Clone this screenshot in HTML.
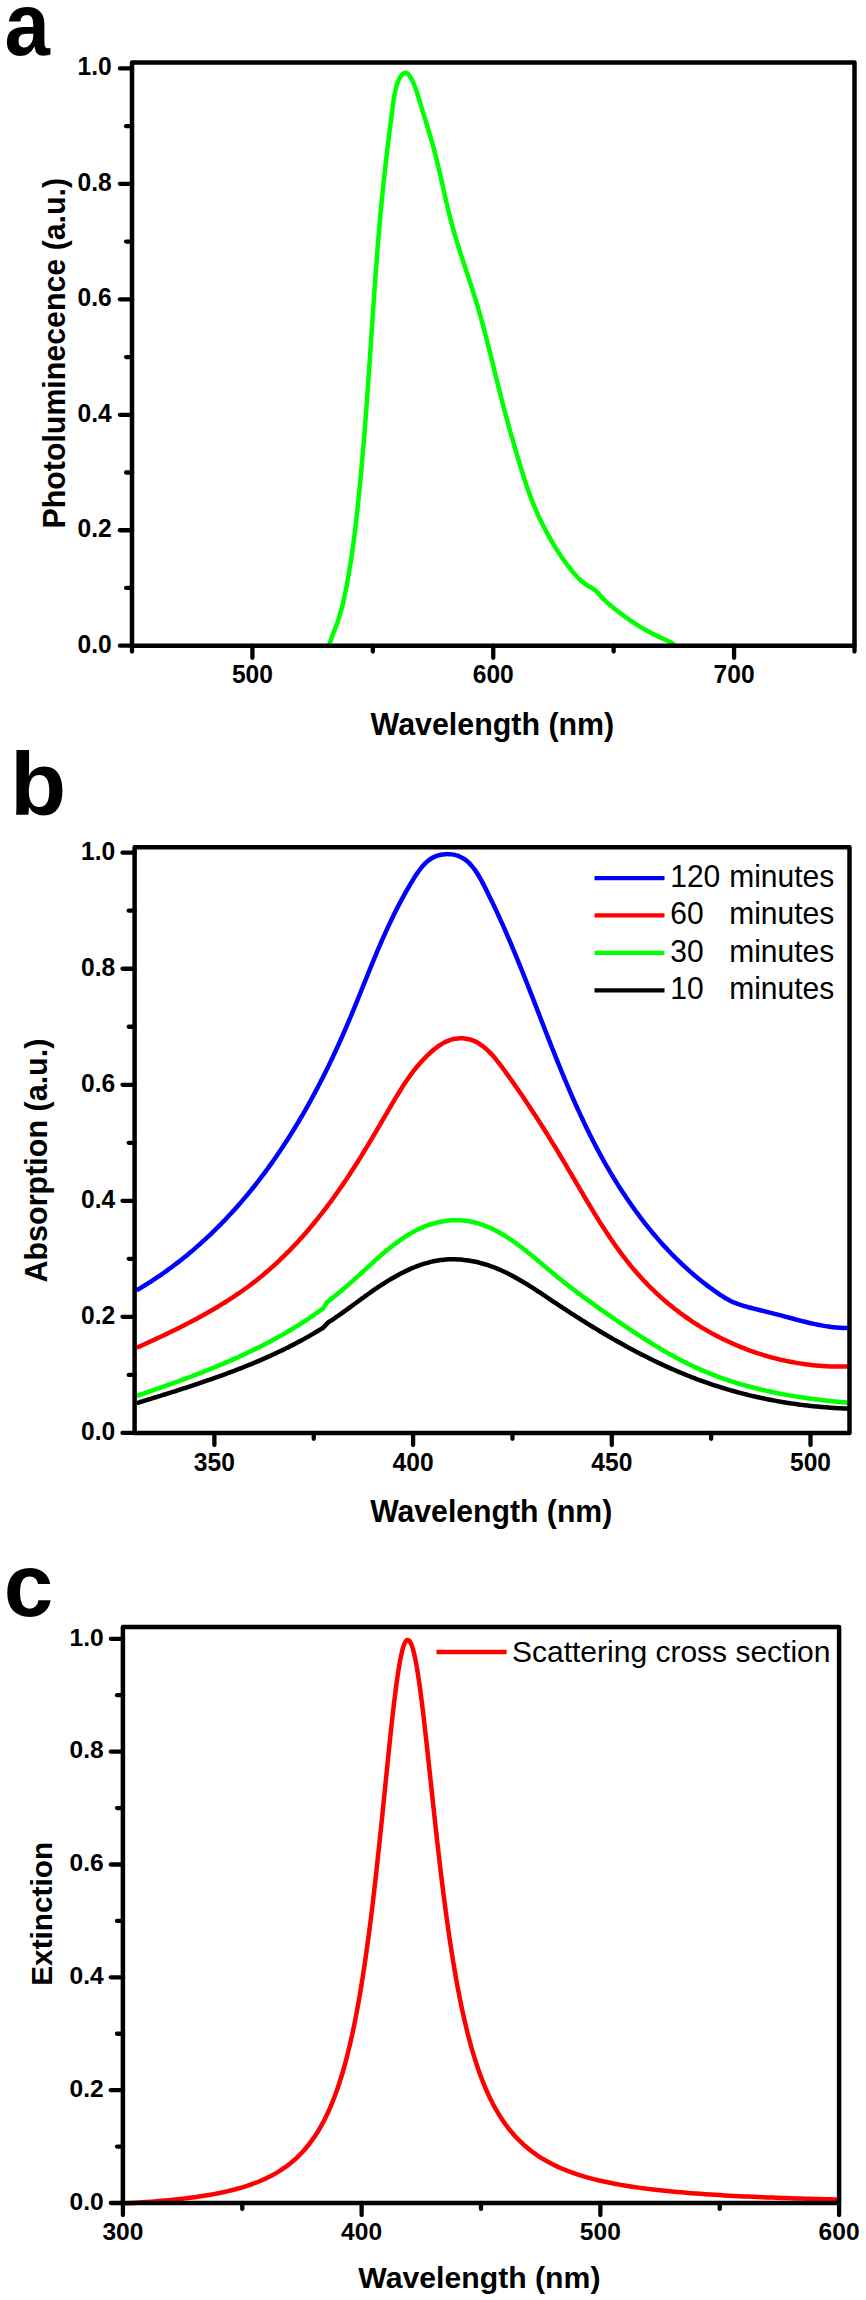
<!DOCTYPE html><html><head><meta charset="utf-8"><style>html,body{margin:0;padding:0;background:#fff;}svg{display:block;}text{font-family:"Liberation Sans", sans-serif;fill:#000;}</style></head><body>
<svg width="866" height="2300" viewBox="0 0 866 2300">
<rect width="866" height="2300" fill="#fff"/>
<line x1="252.42" y1="645.70" x2="252.42" y2="657.80" stroke="#000" stroke-width="4.3" stroke-linecap="round"/>
<line x1="493.25" y1="645.70" x2="493.25" y2="657.80" stroke="#000" stroke-width="4.3" stroke-linecap="round"/>
<line x1="734.08" y1="645.70" x2="734.08" y2="657.80" stroke="#000" stroke-width="4.3" stroke-linecap="round"/>
<line x1="132.00" y1="645.70" x2="132.00" y2="651.60" stroke="#000" stroke-width="4.3" stroke-linecap="round"/>
<line x1="372.83" y1="645.70" x2="372.83" y2="651.60" stroke="#000" stroke-width="4.3" stroke-linecap="round"/>
<line x1="613.67" y1="645.70" x2="613.67" y2="651.60" stroke="#000" stroke-width="4.3" stroke-linecap="round"/>
<line x1="854.50" y1="645.70" x2="854.50" y2="651.60" stroke="#000" stroke-width="4.3" stroke-linecap="round"/>
<line x1="132.00" y1="645.70" x2="119.90" y2="645.70" stroke="#000" stroke-width="4.3" stroke-linecap="round"/>
<line x1="132.00" y1="530.24" x2="119.90" y2="530.24" stroke="#000" stroke-width="4.3" stroke-linecap="round"/>
<line x1="132.00" y1="414.78" x2="119.90" y2="414.78" stroke="#000" stroke-width="4.3" stroke-linecap="round"/>
<line x1="132.00" y1="299.32" x2="119.90" y2="299.32" stroke="#000" stroke-width="4.3" stroke-linecap="round"/>
<line x1="132.00" y1="183.86" x2="119.90" y2="183.86" stroke="#000" stroke-width="4.3" stroke-linecap="round"/>
<line x1="132.00" y1="68.40" x2="119.90" y2="68.40" stroke="#000" stroke-width="4.3" stroke-linecap="round"/>
<line x1="132.00" y1="587.97" x2="126.10" y2="587.97" stroke="#000" stroke-width="4.3" stroke-linecap="round"/>
<line x1="132.00" y1="472.51" x2="126.10" y2="472.51" stroke="#000" stroke-width="4.3" stroke-linecap="round"/>
<line x1="132.00" y1="357.05" x2="126.10" y2="357.05" stroke="#000" stroke-width="4.3" stroke-linecap="round"/>
<line x1="132.00" y1="241.59" x2="126.10" y2="241.59" stroke="#000" stroke-width="4.3" stroke-linecap="round"/>
<line x1="132.00" y1="126.13" x2="126.10" y2="126.13" stroke="#000" stroke-width="4.3" stroke-linecap="round"/>
<text x="252.42" y="0" transform="translate(0 683.20) scale(1 1.030)" text-anchor="middle" font-size="24.60" font-weight="bold">500</text>
<text x="493.25" y="0" transform="translate(0 683.20) scale(1 1.030)" text-anchor="middle" font-size="24.60" font-weight="bold">600</text>
<text x="734.08" y="0" transform="translate(0 683.20) scale(1 1.030)" text-anchor="middle" font-size="24.60" font-weight="bold">700</text>
<text x="111.80" y="0" transform="translate(0 652.50) scale(1 1.030)" text-anchor="end" font-size="24.60" font-weight="bold">0.0</text>
<text x="111.80" y="0" transform="translate(0 537.04) scale(1 1.030)" text-anchor="end" font-size="24.60" font-weight="bold">0.2</text>
<text x="111.80" y="0" transform="translate(0 421.58) scale(1 1.030)" text-anchor="end" font-size="24.60" font-weight="bold">0.4</text>
<text x="111.80" y="0" transform="translate(0 306.12) scale(1 1.030)" text-anchor="end" font-size="24.60" font-weight="bold">0.6</text>
<text x="111.80" y="0" transform="translate(0 190.66) scale(1 1.030)" text-anchor="end" font-size="24.60" font-weight="bold">0.8</text>
<text x="111.80" y="0" transform="translate(0 75.20) scale(1 1.030)" text-anchor="end" font-size="24.60" font-weight="bold">1.0</text>
<path d="M329.01,645.80 C329.10,645.48 329.37,644.51 329.56,643.87 C329.76,643.23 329.96,642.59 330.16,641.95 C330.37,641.32 330.59,640.68 330.80,640.05 C331.02,639.42 331.24,638.79 331.47,638.16 C331.70,637.53 331.93,636.90 332.17,636.28 C332.40,635.65 332.64,635.02 332.88,634.40 C333.12,633.77 333.36,633.15 333.60,632.53 C333.84,631.90 334.08,631.28 334.33,630.65 C334.57,630.03 334.81,629.41 335.05,628.78 C335.29,628.16 335.53,627.54 335.77,626.91 C336.01,626.28 336.24,625.66 336.47,625.03 C336.70,624.40 336.93,623.78 337.15,623.15 C337.38,622.52 337.59,621.89 337.81,621.25 C338.02,620.62 338.24,619.99 338.44,619.35 C338.65,618.72 338.85,618.08 339.06,617.45 C339.26,616.81 339.45,616.17 339.65,615.53 C339.84,614.90 340.03,614.26 340.22,613.61 C340.40,612.97 340.59,612.33 340.77,611.69 C340.95,611.05 341.12,610.40 341.30,609.76 C341.47,609.11 341.64,608.47 341.81,607.82 C341.98,607.17 342.15,606.53 342.31,605.88 C342.47,605.23 342.63,604.58 342.79,603.93 C342.95,603.28 343.10,602.63 343.26,601.98 C343.41,601.33 343.56,600.68 343.71,600.03 C343.86,599.37 344.00,598.72 344.15,598.07 C344.29,597.41 344.43,596.76 344.57,596.11 C344.71,595.45 344.85,594.80 344.99,594.14 C345.12,593.49 345.26,592.83 345.39,592.17 C345.52,591.52 345.65,590.86 345.78,590.20 C345.91,589.55 346.04,588.89 346.17,588.23 C346.30,587.58 346.42,586.92 346.55,586.26 C346.67,585.60 346.80,584.94 346.92,584.29 C347.04,583.63 347.16,582.97 347.28,582.31 C347.40,581.65 347.52,580.99 347.64,580.34 C347.76,579.68 347.88,579.02 347.99,578.36 C348.11,577.70 348.23,577.04 348.34,576.38 C348.46,575.72 348.57,575.06 348.68,574.40 C348.80,573.74 348.91,573.08 349.02,572.43 C349.13,571.77 349.24,571.11 349.35,570.45 C349.46,569.79 349.57,569.13 349.68,568.47 C349.79,567.81 349.89,567.15 350.00,566.49 C350.11,565.82 350.21,565.16 350.32,564.50 C350.42,563.84 350.52,563.18 350.63,562.52 C350.73,561.86 350.83,561.20 350.93,560.54 C351.03,559.88 351.14,559.22 351.24,558.56 C351.34,557.90 351.43,557.23 351.53,556.57 C351.63,555.91 351.73,555.25 351.83,554.59 C351.92,553.93 352.02,553.26 352.11,552.60 C352.21,551.94 352.30,551.28 352.40,550.62 C352.49,549.96 352.59,549.29 352.68,548.63 C352.77,547.97 352.86,547.31 352.95,546.65 C353.04,545.98 353.14,545.32 353.22,544.66 C353.31,544.00 353.40,543.33 353.49,542.67 C353.58,542.01 353.67,541.35 353.76,540.68 C353.84,540.02 353.93,539.36 354.02,538.69 C354.10,538.03 354.19,537.37 354.27,536.70 C354.36,536.04 354.44,535.38 354.53,534.72 C354.61,534.05 354.69,533.39 354.78,532.73 C354.86,532.06 354.94,531.40 355.02,530.74 C355.10,530.07 355.18,529.41 355.26,528.74 C355.34,528.08 355.42,527.42 355.50,526.75 C355.58,526.09 355.66,525.43 355.74,524.76 C355.82,524.10 355.90,523.43 355.97,522.77 C356.05,522.11 356.13,521.44 356.20,520.78 C356.28,520.11 356.36,519.45 356.43,518.78 C356.51,518.12 356.58,517.46 356.66,516.79 C356.73,516.13 356.80,515.46 356.88,514.80 C356.95,514.13 357.02,513.47 357.10,512.80 C357.17,512.14 357.24,511.48 357.31,510.81 C357.39,510.15 357.46,509.48 357.53,508.82 C357.60,508.15 357.67,507.49 357.74,506.82 C357.81,506.16 357.88,505.49 357.95,504.83 C358.02,504.16 358.09,503.50 358.16,502.83 C358.23,502.17 358.30,501.50 358.37,500.84 C358.43,500.17 358.50,499.51 358.57,498.84 C358.64,498.18 358.71,497.51 358.77,496.85 C358.84,496.18 358.91,495.52 358.97,494.85 C359.04,494.18 359.11,493.52 359.17,492.85 C359.24,492.19 359.31,491.52 359.37,490.86 C359.44,490.19 359.50,489.53 359.57,488.86 C359.63,488.20 359.70,487.53 359.76,486.86 C359.83,486.20 359.89,485.53 359.95,484.87 C360.02,484.20 360.08,483.54 360.15,482.87 C360.21,482.21 360.27,481.54 360.33,480.87 C360.40,480.21 360.46,479.54 360.52,478.88 C360.59,478.21 360.65,477.54 360.71,476.88 C360.77,476.21 360.83,475.55 360.90,474.88 C360.96,474.22 361.02,473.55 361.08,472.88 C361.14,472.22 361.20,471.55 361.26,470.89 C361.32,470.22 361.38,469.55 361.44,468.89 C361.50,468.22 361.56,467.55 361.62,466.89 C361.68,466.22 361.74,465.56 361.80,464.89 C361.86,464.22 361.92,463.56 361.98,462.89 C362.04,462.23 362.10,461.56 362.15,460.89 C362.21,460.23 362.27,459.56 362.33,458.89 C362.39,458.23 362.44,457.56 362.50,456.90 C362.56,456.23 362.62,455.56 362.67,454.90 C362.73,454.23 362.79,453.56 362.85,452.90 C362.90,452.23 362.96,451.56 363.01,450.90 C363.07,450.23 363.13,449.56 363.18,448.90 C363.24,448.23 363.29,447.56 363.35,446.90 C363.41,446.23 363.46,445.57 363.52,444.90 C363.57,444.23 363.63,443.57 363.68,442.90 C363.74,442.23 363.79,441.57 363.85,440.90 C363.90,440.23 363.95,439.57 364.01,438.90 C364.06,438.23 364.12,437.57 364.17,436.90 C364.22,436.23 364.28,435.56 364.33,434.90 C364.38,434.23 364.44,433.56 364.49,432.90 C364.54,432.23 364.60,431.56 364.65,430.90 C364.70,430.23 364.75,429.56 364.81,428.90 C364.86,428.23 364.91,427.56 364.96,426.90 C365.02,426.23 365.07,425.56 365.12,424.90 C365.17,424.23 365.22,423.56 365.27,422.89 C365.32,422.23 365.38,421.56 365.43,420.89 C365.48,420.23 365.53,419.56 365.58,418.89 C365.63,418.23 365.68,417.56 365.73,416.89 C365.78,416.22 365.83,415.56 365.88,414.89 C365.93,414.22 365.98,413.56 366.03,412.89 C366.08,412.22 366.13,411.55 366.18,410.89 C366.23,410.22 366.28,409.55 366.33,408.89 C366.38,408.22 366.43,407.55 366.48,406.89 C366.53,406.22 366.58,405.55 366.63,404.88 C366.68,404.22 366.73,403.55 366.77,402.88 C366.82,402.21 366.87,401.55 366.92,400.88 C366.97,400.21 367.02,399.55 367.07,398.88 C367.11,398.21 367.16,397.54 367.21,396.88 C367.26,396.21 367.31,395.54 367.35,394.88 C367.40,394.21 367.45,393.54 367.50,392.87 C367.54,392.21 367.59,391.54 367.64,390.87 C367.69,390.20 367.73,389.54 367.78,388.87 C367.83,388.20 367.88,387.54 367.92,386.87 C367.97,386.20 368.02,385.53 368.06,384.87 C368.11,384.20 368.16,383.53 368.20,382.86 C368.25,382.20 368.30,381.53 368.34,380.86 C368.39,380.20 368.44,379.53 368.48,378.86 C368.53,378.19 368.58,377.53 368.62,376.86 C368.67,376.19 368.71,375.52 368.76,374.86 C368.81,374.19 368.85,373.52 368.90,372.86 C368.94,372.19 368.99,371.52 369.04,370.85 C369.08,370.19 369.13,369.52 369.17,368.85 C369.22,368.18 369.26,367.52 369.31,366.85 C369.36,366.18 369.40,365.52 369.45,364.85 C369.49,364.18 369.54,363.51 369.58,362.85 C369.63,362.18 369.67,361.51 369.72,360.84 C369.76,360.18 369.81,359.51 369.85,358.84 C369.90,358.17 369.94,357.51 369.99,356.84 C370.03,356.17 370.08,355.51 370.12,354.84 C370.17,354.17 370.21,353.50 370.26,352.84 C370.30,352.17 370.35,351.50 370.39,350.83 C370.44,350.17 370.48,349.50 370.53,348.83 C370.57,348.17 370.62,347.50 370.66,346.83 C370.71,346.16 370.75,345.50 370.80,344.83 C370.84,344.16 370.89,343.49 370.93,342.83 C370.98,342.16 371.02,341.49 371.06,340.83 C371.11,340.16 371.15,339.49 371.20,338.82 C371.24,338.16 371.29,337.49 371.33,336.82 C371.38,336.16 371.42,335.49 371.47,334.82 C371.51,334.15 371.55,333.49 371.60,332.82 C371.64,332.15 371.69,331.49 371.73,330.82 C371.78,330.15 371.82,329.48 371.87,328.82 C371.91,328.15 371.95,327.48 372.00,326.82 C372.04,326.15 372.09,325.48 372.13,324.81 C372.18,324.15 372.22,323.48 372.27,322.81 C372.31,322.15 372.36,321.48 372.40,320.81 C372.44,320.15 372.49,319.48 372.53,318.81 C372.58,318.14 372.62,317.48 372.67,316.81 C372.71,316.14 372.76,315.48 372.80,314.81 C372.85,314.14 372.89,313.48 372.94,312.81 C372.98,312.14 373.03,311.48 373.07,310.81 C373.12,310.14 373.16,309.47 373.21,308.81 C373.25,308.14 373.30,307.47 373.34,306.81 C373.39,306.14 373.43,305.47 373.48,304.81 C373.52,304.14 373.57,303.47 373.61,302.81 C373.66,302.14 373.70,301.47 373.75,300.81 C373.79,300.14 373.84,299.47 373.89,298.81 C373.93,298.14 373.98,297.47 374.02,296.80 C374.07,296.14 374.12,295.47 374.16,294.80 C374.21,294.14 374.25,293.47 374.30,292.80 C374.35,292.14 374.39,291.47 374.44,290.80 C374.48,290.14 374.53,289.47 374.58,288.80 C374.62,288.14 374.67,287.47 374.72,286.80 C374.76,286.14 374.81,285.47 374.86,284.80 C374.91,284.14 374.95,283.47 375.00,282.80 C375.05,282.14 375.09,281.47 375.14,280.80 C375.19,280.14 375.24,279.47 375.28,278.80 C375.33,278.14 375.38,277.47 375.43,276.80 C375.48,276.14 375.52,275.47 375.57,274.80 C375.62,274.14 375.67,273.47 375.72,272.80 C375.77,272.14 375.81,271.47 375.86,270.80 C375.91,270.14 375.96,269.47 376.01,268.80 C376.06,268.14 376.11,267.47 376.16,266.80 C376.21,266.14 376.26,265.47 376.31,264.81 C376.36,264.14 376.41,263.47 376.46,262.81 C376.51,262.14 376.56,261.47 376.61,260.81 C376.66,260.14 376.71,259.47 376.76,258.81 C376.81,258.14 376.86,257.47 376.91,256.81 C376.96,256.14 377.01,255.47 377.07,254.81 C377.12,254.14 377.17,253.47 377.22,252.81 C377.27,252.14 377.32,251.47 377.38,250.81 C377.43,250.14 377.48,249.47 377.53,248.81 C377.59,248.14 377.64,247.48 377.69,246.81 C377.75,246.14 377.80,245.48 377.85,244.81 C377.91,244.14 377.96,243.48 378.01,242.81 C378.07,242.14 378.12,241.48 378.18,240.81 C378.23,240.14 378.29,239.48 378.34,238.81 C378.40,238.14 378.45,237.48 378.51,236.81 C378.56,236.14 378.62,235.48 378.67,234.81 C378.73,234.15 378.78,233.48 378.84,232.81 C378.90,232.15 378.95,231.48 379.01,230.81 C379.07,230.15 379.12,229.48 379.18,228.81 C379.24,228.15 379.30,227.48 379.35,226.81 C379.41,226.15 379.47,225.48 379.53,224.81 C379.59,224.15 379.65,223.48 379.70,222.81 C379.76,222.15 379.82,221.48 379.88,220.82 C379.94,220.15 380.00,219.48 380.06,218.82 C380.12,218.15 380.18,217.48 380.24,216.82 C380.30,216.15 380.36,215.48 380.42,214.82 C380.49,214.15 380.55,213.48 380.61,212.82 C380.67,212.15 380.73,211.48 380.79,210.82 C380.86,210.15 380.92,209.48 380.98,208.82 C381.05,208.15 381.11,207.49 381.17,206.82 C381.24,206.15 381.30,205.49 381.36,204.82 C381.43,204.15 381.49,203.49 381.56,202.82 C381.62,202.15 381.69,201.49 381.75,200.82 C381.82,200.15 381.88,199.49 381.95,198.82 C382.01,198.15 382.08,197.49 382.15,196.82 C382.21,196.16 382.28,195.49 382.35,194.82 C382.41,194.16 382.48,193.49 382.55,192.82 C382.62,192.16 382.68,191.49 382.75,190.83 C382.82,190.16 382.89,189.49 382.96,188.83 C383.03,188.16 383.09,187.49 383.16,186.83 C383.23,186.16 383.30,185.50 383.37,184.83 C383.44,184.16 383.51,183.50 383.58,182.83 C383.65,182.17 383.72,181.50 383.79,180.83 C383.87,180.17 383.94,179.50 384.01,178.84 C384.08,178.17 384.15,177.50 384.22,176.84 C384.29,176.17 384.37,175.51 384.44,174.84 C384.51,174.18 384.58,173.51 384.66,172.84 C384.73,172.18 384.80,171.51 384.88,170.85 C384.95,170.18 385.03,169.52 385.10,168.85 C385.17,168.19 385.25,167.52 385.32,166.86 C385.40,166.19 385.47,165.52 385.55,164.86 C385.62,164.19 385.70,163.53 385.77,162.86 C385.85,162.20 385.92,161.53 386.00,160.87 C386.08,160.20 386.15,159.54 386.23,158.88 C386.31,158.21 386.38,157.55 386.46,156.88 C386.54,156.22 386.62,155.55 386.69,154.89 C386.77,154.22 386.85,153.56 386.93,152.89 C387.01,152.23 387.08,151.57 387.16,150.90 C387.24,150.24 387.32,149.57 387.40,148.91 C387.48,148.25 387.56,147.58 387.64,146.92 C387.72,146.25 387.80,145.59 387.88,144.93 C387.96,144.26 388.04,143.60 388.12,142.94 C388.20,142.27 388.28,141.61 388.36,140.95 C388.44,140.28 388.52,139.62 388.60,138.96 C388.69,138.29 388.77,137.63 388.85,136.97 C388.93,136.30 389.01,135.64 389.10,134.98 C389.18,134.32 389.26,133.65 389.34,132.99 C389.43,132.33 389.51,131.67 389.59,131.00 C389.68,130.34 389.76,129.68 389.84,129.02 C389.93,128.35 390.01,127.69 390.10,127.03 C390.18,126.37 390.26,125.71 390.35,125.05 C390.43,124.38 390.52,123.72 390.60,123.06 C390.69,122.40 390.77,121.74 390.86,121.08 C390.95,120.42 391.03,119.75 391.12,119.09 C391.20,118.43 391.29,117.77 391.38,117.11 C391.46,116.45 391.55,115.79 391.64,115.13 C391.72,114.47 391.81,113.81 391.90,113.15 C391.98,112.49 392.07,111.83 392.16,111.17 C392.25,110.51 392.34,109.85 392.42,109.19 C392.51,108.53 392.60,107.87 392.69,107.21 C392.78,106.55 392.87,105.89 392.95,105.23 C393.04,104.57 393.13,103.91 393.22,103.26 C393.31,102.60 393.40,101.94 393.49,101.28 C393.58,100.62 393.67,99.96 393.77,99.30 C393.87,98.65 393.96,97.99 394.06,97.33 C394.17,96.67 394.27,96.01 394.38,95.36 C394.50,94.70 394.61,94.04 394.74,93.38 C394.86,92.72 394.99,92.07 395.13,91.41 C395.27,90.75 395.42,90.09 395.58,89.44 C395.73,88.78 395.90,88.12 396.08,87.46 C396.26,86.81 396.44,86.15 396.65,85.49 C396.85,84.83 397.06,84.18 397.29,83.52 C397.52,82.86 397.75,82.20 398.01,81.55 C398.27,80.90 398.54,80.24 398.83,79.60 C399.13,78.97 399.44,78.34 399.77,77.75 C400.11,77.16 400.47,76.58 400.86,76.05 C401.25,75.52 401.66,75.01 402.11,74.56 C402.56,74.11 403.05,73.67 403.55,73.36 C404.06,73.05 404.60,72.78 405.13,72.73 C405.65,72.68 406.19,72.82 406.70,73.06 C407.21,73.30 407.71,73.73 408.19,74.19 C408.66,74.64 409.13,75.23 409.55,75.79 C409.97,76.36 410.36,76.97 410.72,77.57 C411.09,78.17 411.41,78.78 411.73,79.39 C412.04,80.00 412.33,80.61 412.62,81.22 C412.91,81.84 413.18,82.46 413.45,83.07 C413.72,83.69 413.98,84.31 414.23,84.94 C414.48,85.56 414.73,86.19 414.97,86.81 C415.20,87.44 415.43,88.07 415.66,88.70 C415.89,89.33 416.11,89.96 416.32,90.59 C416.54,91.22 416.75,91.86 416.95,92.49 C417.16,93.12 417.36,93.76 417.56,94.40 C417.76,95.03 417.96,95.67 418.15,96.31 C418.35,96.94 418.54,97.58 418.73,98.22 C418.92,98.86 419.11,99.50 419.30,100.14 C419.49,100.77 419.68,101.41 419.88,102.05 C420.07,102.69 420.26,103.33 420.45,103.97 C420.64,104.61 420.84,105.25 421.03,105.88 C421.22,106.52 421.42,107.16 421.61,107.80 C421.81,108.44 422.00,109.08 422.20,109.72 C422.39,110.36 422.59,110.99 422.79,111.63 C422.98,112.27 423.18,112.91 423.37,113.55 C423.57,114.19 423.77,114.83 423.96,115.46 C424.16,116.10 424.36,116.74 424.55,117.38 C424.75,118.02 424.95,118.66 425.14,119.30 C425.34,119.94 425.54,120.58 425.73,121.21 C425.93,121.85 426.13,122.49 426.32,123.13 C426.52,123.77 426.71,124.41 426.91,125.05 C427.11,125.69 427.30,126.33 427.50,126.97 C427.69,127.61 427.88,128.25 428.08,128.89 C428.27,129.53 428.47,130.17 428.66,130.81 C428.85,131.45 429.04,132.09 429.23,132.74 C429.43,133.38 429.62,134.02 429.81,134.66 C430.00,135.30 430.19,135.94 430.37,136.58 C430.56,137.23 430.75,137.87 430.94,138.51 C431.12,139.15 431.31,139.80 431.50,140.44 C431.68,141.08 431.86,141.73 432.05,142.37 C432.23,143.01 432.41,143.66 432.59,144.30 C432.77,144.95 432.95,145.59 433.13,146.24 C433.31,146.88 433.49,147.53 433.66,148.17 C433.84,148.82 434.01,149.46 434.18,150.11 C434.36,150.75 434.53,151.40 434.70,152.05 C434.87,152.70 435.04,153.34 435.20,153.99 C435.37,154.64 435.54,155.29 435.70,155.93 C435.87,156.58 436.03,157.23 436.20,157.88 C436.36,158.53 436.52,159.18 436.68,159.83 C436.84,160.48 437.00,161.13 437.16,161.78 C437.32,162.43 437.48,163.08 437.63,163.73 C437.79,164.38 437.95,165.03 438.10,165.68 C438.26,166.33 438.41,166.98 438.56,167.63 C438.72,168.28 438.87,168.93 439.02,169.58 C439.17,170.24 439.33,170.89 439.48,171.54 C439.63,172.19 439.78,172.84 439.93,173.49 C440.08,174.15 440.23,174.80 440.38,175.45 C440.52,176.10 440.67,176.76 440.82,177.41 C440.97,178.06 441.12,178.71 441.26,179.37 C441.41,180.02 441.56,180.67 441.71,181.32 C441.85,181.98 442.00,182.63 442.15,183.28 C442.29,183.94 442.44,184.59 442.59,185.24 C442.73,185.89 442.88,186.55 443.02,187.20 C443.17,187.85 443.32,188.51 443.46,189.16 C443.61,189.81 443.76,190.46 443.90,191.12 C444.05,191.77 444.20,192.42 444.34,193.08 C444.49,193.73 444.64,194.38 444.78,195.03 C444.93,195.69 445.08,196.34 445.23,196.99 C445.38,197.64 445.52,198.29 445.67,198.95 C445.82,199.60 445.97,200.25 446.12,200.90 C446.27,201.55 446.42,202.21 446.57,202.86 C446.72,203.51 446.88,204.16 447.03,204.81 C447.18,205.46 447.33,206.11 447.49,206.76 C447.64,207.41 447.79,208.06 447.95,208.71 C448.11,209.36 448.26,210.01 448.42,210.66 C448.58,211.31 448.73,211.96 448.89,212.61 C449.05,213.26 449.21,213.91 449.37,214.56 C449.53,215.21 449.69,215.86 449.86,216.51 C450.02,217.15 450.18,217.80 450.35,218.45 C450.52,219.10 450.68,219.74 450.85,220.39 C451.02,221.04 451.19,221.68 451.36,222.33 C451.53,222.98 451.70,223.62 451.87,224.27 C452.05,224.91 452.22,225.56 452.40,226.20 C452.57,226.85 452.75,227.49 452.93,228.13 C453.11,228.78 453.29,229.42 453.47,230.06 C453.65,230.71 453.83,231.35 454.02,231.99 C454.20,232.63 454.39,233.28 454.57,233.92 C454.76,234.56 454.95,235.20 455.14,235.84 C455.32,236.48 455.51,237.12 455.71,237.77 C455.90,238.41 456.09,239.05 456.28,239.69 C456.47,240.33 456.67,240.97 456.86,241.60 C457.06,242.24 457.26,242.88 457.45,243.52 C457.65,244.16 457.85,244.80 458.05,245.44 C458.24,246.08 458.44,246.71 458.64,247.35 C458.84,247.99 459.04,248.63 459.25,249.27 C459.45,249.90 459.65,250.54 459.85,251.18 C460.06,251.82 460.26,252.45 460.46,253.09 C460.67,253.73 460.87,254.36 461.08,255.00 C461.28,255.64 461.49,256.27 461.70,256.91 C461.90,257.55 462.11,258.18 462.32,258.82 C462.52,259.45 462.73,260.09 462.94,260.73 C463.15,261.36 463.36,262.00 463.56,262.63 C463.77,263.27 463.98,263.90 464.19,264.54 C464.40,265.18 464.61,265.81 464.82,266.45 C465.03,267.08 465.24,267.72 465.45,268.35 C465.66,268.99 465.87,269.62 466.08,270.26 C466.29,270.89 466.50,271.53 466.70,272.17 C466.91,272.80 467.12,273.44 467.33,274.07 C467.54,274.71 467.75,275.34 467.96,275.98 C468.17,276.61 468.38,277.25 468.59,277.88 C468.80,278.52 469.01,279.16 469.22,279.79 C469.43,280.43 469.63,281.06 469.84,281.70 C470.05,282.34 470.26,282.97 470.47,283.61 C470.67,284.24 470.88,284.88 471.09,285.52 C471.29,286.15 471.50,286.79 471.70,287.43 C471.91,288.06 472.12,288.70 472.32,289.34 C472.52,289.97 472.73,290.61 472.93,291.25 C473.13,291.88 473.34,292.52 473.54,293.16 C473.74,293.80 473.94,294.43 474.14,295.07 C474.34,295.71 474.54,296.35 474.74,296.99 C474.94,297.63 475.14,298.26 475.34,298.90 C475.53,299.54 475.73,300.18 475.93,300.82 C476.12,301.46 476.32,302.10 476.51,302.74 C476.70,303.38 476.90,304.02 477.09,304.66 C477.28,305.30 477.47,305.94 477.66,306.58 C477.85,307.22 478.04,307.86 478.22,308.51 C478.41,309.15 478.60,309.79 478.79,310.43 C478.97,311.07 479.16,311.72 479.34,312.36 C479.52,313.00 479.71,313.64 479.89,314.29 C480.07,314.93 480.26,315.57 480.44,316.22 C480.62,316.86 480.80,317.50 480.98,318.15 C481.16,318.79 481.33,319.43 481.51,320.08 C481.69,320.72 481.87,321.37 482.04,322.01 C482.22,322.66 482.40,323.30 482.57,323.95 C482.75,324.59 482.92,325.24 483.10,325.88 C483.27,326.53 483.44,327.17 483.61,327.82 C483.79,328.46 483.96,329.11 484.13,329.76 C484.30,330.40 484.47,331.05 484.64,331.69 C484.81,332.34 484.98,332.99 485.15,333.63 C485.32,334.28 485.49,334.93 485.66,335.57 C485.83,336.22 485.99,336.87 486.16,337.52 C486.33,338.16 486.49,338.81 486.66,339.46 C486.83,340.11 486.99,340.75 487.16,341.40 C487.32,342.05 487.49,342.70 487.65,343.34 C487.82,343.99 487.98,344.64 488.15,345.29 C488.31,345.94 488.47,346.58 488.64,347.23 C488.80,347.88 488.96,348.53 489.12,349.18 C489.29,349.83 489.45,350.48 489.61,351.12 C489.77,351.77 489.94,352.42 490.10,353.07 C490.26,353.72 490.42,354.37 490.58,355.02 C490.74,355.67 490.90,356.31 491.06,356.96 C491.22,357.61 491.39,358.26 491.55,358.91 C491.71,359.56 491.87,360.21 492.03,360.86 C492.19,361.51 492.35,362.16 492.51,362.80 C492.67,363.45 492.83,364.10 492.99,364.75 C493.15,365.40 493.31,366.05 493.47,366.70 C493.63,367.35 493.79,368.00 493.94,368.65 C494.10,369.30 494.26,369.95 494.42,370.60 C494.58,371.24 494.74,371.89 494.90,372.54 C495.06,373.19 495.22,373.84 495.38,374.49 C495.54,375.14 495.70,375.79 495.86,376.44 C496.02,377.09 496.18,377.74 496.34,378.39 C496.51,379.03 496.67,379.68 496.83,380.33 C496.99,380.98 497.15,381.63 497.31,382.28 C497.47,382.93 497.63,383.58 497.79,384.23 C497.96,384.87 498.12,385.52 498.28,386.17 C498.44,386.82 498.60,387.47 498.77,388.12 C498.93,388.76 499.09,389.41 499.26,390.06 C499.42,390.71 499.58,391.36 499.75,392.01 C499.91,392.65 500.08,393.30 500.24,393.95 C500.41,394.60 500.57,395.25 500.74,395.89 C500.90,396.54 501.07,397.19 501.24,397.84 C501.40,398.48 501.57,399.13 501.74,399.78 C501.90,400.42 502.07,401.07 502.24,401.72 C502.41,402.37 502.57,403.01 502.74,403.66 C502.91,404.31 503.08,404.95 503.25,405.60 C503.42,406.25 503.59,406.89 503.76,407.54 C503.93,408.18 504.10,408.83 504.27,409.48 C504.44,410.12 504.62,410.77 504.79,411.42 C504.96,412.06 505.13,412.71 505.30,413.35 C505.48,414.00 505.65,414.64 505.82,415.29 C506.00,415.94 506.17,416.58 506.34,417.23 C506.52,417.87 506.69,418.52 506.87,419.16 C507.04,419.81 507.22,420.45 507.39,421.10 C507.57,421.74 507.75,422.39 507.92,423.03 C508.10,423.68 508.28,424.32 508.45,424.96 C508.63,425.61 508.81,426.25 508.99,426.90 C509.17,427.54 509.34,428.19 509.52,428.83 C509.70,429.47 509.88,430.12 510.06,430.76 C510.24,431.41 510.42,432.05 510.60,432.69 C510.78,433.34 510.96,433.98 511.14,434.63 C511.33,435.27 511.51,435.91 511.69,436.56 C511.87,437.20 512.05,437.84 512.24,438.49 C512.42,439.13 512.60,439.77 512.79,440.41 C512.97,441.06 513.15,441.70 513.34,442.34 C513.52,442.99 513.71,443.63 513.89,444.27 C514.08,444.91 514.26,445.56 514.45,446.20 C514.64,446.84 514.82,447.48 515.01,448.13 C515.20,448.77 515.38,449.41 515.57,450.05 C515.76,450.69 515.95,451.34 516.14,451.98 C516.32,452.62 516.51,453.26 516.70,453.90 C516.89,454.54 517.08,455.19 517.27,455.83 C517.46,456.47 517.65,457.11 517.84,457.75 C518.03,458.39 518.22,459.03 518.42,459.68 C518.61,460.32 518.80,460.96 518.99,461.60 C519.18,462.24 519.38,462.88 519.57,463.52 C519.76,464.16 519.96,464.80 520.15,465.44 C520.34,466.08 520.54,466.72 520.73,467.37 C520.93,468.01 521.12,468.65 521.32,469.29 C521.52,469.93 521.71,470.56 521.91,471.20 C522.11,471.84 522.31,472.48 522.51,473.12 C522.71,473.76 522.91,474.40 523.11,475.04 C523.31,475.68 523.51,476.31 523.72,476.95 C523.92,477.59 524.12,478.23 524.33,478.86 C524.53,479.50 524.74,480.14 524.95,480.77 C525.15,481.41 525.36,482.04 525.57,482.68 C525.78,483.31 526.00,483.95 526.21,484.58 C526.42,485.22 526.63,485.85 526.85,486.48 C527.07,487.11 527.28,487.75 527.50,488.38 C527.72,489.01 527.94,489.64 528.16,490.27 C528.38,490.90 528.61,491.53 528.83,492.16 C529.06,492.79 529.28,493.42 529.51,494.05 C529.74,494.68 529.97,495.30 530.20,495.93 C530.44,496.56 530.67,497.18 530.91,497.81 C531.14,498.43 531.38,499.05 531.62,499.68 C531.86,500.30 532.10,500.92 532.35,501.54 C532.59,502.17 532.84,502.79 533.09,503.41 C533.34,504.03 533.59,504.64 533.84,505.26 C534.09,505.88 534.35,506.50 534.61,507.11 C534.87,507.73 535.13,508.34 535.39,508.96 C535.65,509.57 535.92,510.18 536.18,510.80 C536.45,511.41 536.72,512.02 536.99,512.63 C537.26,513.24 537.53,513.85 537.81,514.46 C538.09,515.07 538.36,515.67 538.64,516.28 C538.92,516.89 539.21,517.49 539.49,518.09 C539.78,518.70 540.06,519.30 540.35,519.90 C540.64,520.51 540.93,521.11 541.22,521.71 C541.52,522.31 541.81,522.91 542.11,523.51 C542.40,524.10 542.70,524.70 543.00,525.30 C543.31,525.89 543.61,526.49 543.91,527.08 C544.22,527.68 544.53,528.27 544.84,528.86 C545.14,529.45 545.46,530.04 545.77,530.63 C546.08,531.22 546.40,531.81 546.71,532.40 C547.03,532.99 547.35,533.57 547.67,534.16 C547.99,534.75 548.32,535.33 548.64,535.91 C548.97,536.50 549.29,537.08 549.62,537.66 C549.95,538.24 550.28,538.82 550.61,539.40 C550.95,539.98 551.28,540.56 551.62,541.13 C551.95,541.71 552.29,542.29 552.63,542.86 C552.97,543.44 553.32,544.01 553.66,544.58 C554.00,545.15 554.35,545.72 554.70,546.29 C555.05,546.86 555.40,547.43 555.75,548.00 C556.10,548.57 556.45,549.13 556.81,549.70 C557.17,550.26 557.53,550.82 557.89,551.38 C558.25,551.95 558.61,552.51 558.98,553.06 C559.34,553.62 559.71,554.18 560.08,554.73 C560.45,555.29 560.82,555.84 561.20,556.40 C561.57,556.95 561.95,557.50 562.33,558.05 C562.71,558.60 563.09,559.14 563.48,559.69 C563.87,560.23 564.25,560.78 564.64,561.32 C565.03,561.86 565.43,562.40 565.82,562.94 C566.22,563.48 566.62,564.01 567.02,564.55 C567.42,565.08 567.83,565.62 568.23,566.15 C568.64,566.68 569.05,567.21 569.46,567.73 C569.88,568.26 570.29,568.78 570.71,569.31 C571.13,569.83 571.55,570.35 571.98,570.87 C572.40,571.38 572.83,571.90 573.26,572.41 C573.69,572.93 574.13,573.44 574.57,573.94 C575.01,574.45 575.45,574.95 575.90,575.44 C576.35,575.94 576.81,576.43 577.27,576.92 C577.73,577.40 578.20,577.88 578.67,578.35 C579.14,578.82 579.62,579.29 580.11,579.74 C580.59,580.20 581.09,580.65 581.59,581.09 C582.09,581.52 582.60,581.95 583.12,582.37 C583.64,582.79 584.16,583.20 584.70,583.60 C585.24,583.99 585.78,584.38 586.34,584.75 C586.89,585.13 587.46,585.49 588.03,585.83 C588.61,586.18 589.20,586.51 589.79,586.84 C590.38,587.18 590.98,587.49 591.56,587.83 C592.15,588.16 592.74,588.50 593.30,588.86 C593.86,589.23 594.41,589.60 594.93,590.02 C595.45,590.43 595.95,590.87 596.44,591.33 C596.92,591.79 597.38,592.28 597.84,592.77 C598.30,593.26 598.74,593.78 599.18,594.29 C599.63,594.80 600.06,595.32 600.50,595.83 C600.94,596.34 601.38,596.85 601.83,597.35 C602.28,597.85 602.74,598.34 603.21,598.82 C603.67,599.30 604.15,599.76 604.63,600.22 C605.11,600.69 605.59,601.14 606.09,601.58 C606.58,602.03 607.07,602.47 607.58,602.90 C608.08,603.34 608.58,603.77 609.09,604.20 C609.60,604.62 610.11,605.05 610.62,605.47 C611.14,605.89 611.65,606.32 612.17,606.74 C612.69,607.16 613.21,607.58 613.73,608.00 C614.25,608.42 614.77,608.84 615.29,609.26 C615.81,609.67 616.34,610.09 616.86,610.50 C617.39,610.92 617.91,611.33 618.44,611.74 C618.97,612.16 619.50,612.57 620.03,612.97 C620.56,613.38 621.10,613.79 621.63,614.19 C622.17,614.60 622.70,615.00 623.24,615.40 C623.77,615.80 624.31,616.20 624.85,616.59 C625.39,616.99 625.93,617.38 626.48,617.77 C627.02,618.16 627.56,618.55 628.11,618.93 C628.65,619.32 629.20,619.70 629.75,620.07 C630.30,620.45 630.84,620.83 631.40,621.20 C631.95,621.57 632.50,621.94 633.05,622.31 C633.61,622.67 634.16,623.04 634.72,623.40 C635.28,623.76 635.84,624.11 636.40,624.47 C636.96,624.82 637.53,625.18 638.10,625.53 C638.66,625.88 639.23,626.22 639.80,626.57 C640.37,626.91 640.95,627.25 641.52,627.59 C642.10,627.93 642.68,628.27 643.25,628.60 C643.83,628.93 644.42,629.27 645.00,629.59 C645.58,629.92 646.17,630.25 646.75,630.57 C647.34,630.90 647.93,631.22 648.52,631.54 C649.11,631.86 649.70,632.17 650.29,632.49 C650.88,632.80 651.48,633.11 652.07,633.42 C652.67,633.73 653.27,634.04 653.86,634.34 C654.46,634.65 655.06,634.95 655.66,635.25 C656.26,635.55 656.86,635.85 657.46,636.14 C658.06,636.44 658.66,636.73 659.27,637.02 C659.87,637.31 660.47,637.60 661.08,637.89 C661.68,638.17 662.29,638.46 662.89,638.74 C663.50,639.02 664.10,639.30 664.71,639.58 C665.31,639.86 665.92,640.13 666.53,640.41 C667.13,640.68 667.74,640.95 668.34,641.23 C668.94,641.51 669.54,641.79 670.13,642.09 C670.71,642.39 671.30,642.70 671.86,643.05 C672.42,643.39 672.97,643.76 673.49,644.16 C674.02,644.57 674.75,645.27 675.00,645.50" fill="none" stroke="#00ff00" stroke-width="4.5" stroke-linejoin="round" stroke-linecap="round"/>
<rect x="132.00" y="62.50" width="722.50" height="583.20" fill="none" stroke="#000" stroke-width="4.5" stroke-linejoin="round"/>
<line x1="214.40" y1="1432.90" x2="214.40" y2="1445.00" stroke="#000" stroke-width="4.3" stroke-linecap="round"/>
<line x1="413.10" y1="1432.90" x2="413.10" y2="1445.00" stroke="#000" stroke-width="4.3" stroke-linecap="round"/>
<line x1="611.80" y1="1432.90" x2="611.80" y2="1445.00" stroke="#000" stroke-width="4.3" stroke-linecap="round"/>
<line x1="810.50" y1="1432.90" x2="810.50" y2="1445.00" stroke="#000" stroke-width="4.3" stroke-linecap="round"/>
<line x1="313.75" y1="1432.90" x2="313.75" y2="1438.80" stroke="#000" stroke-width="4.3" stroke-linecap="round"/>
<line x1="512.45" y1="1432.90" x2="512.45" y2="1438.80" stroke="#000" stroke-width="4.3" stroke-linecap="round"/>
<line x1="711.15" y1="1432.90" x2="711.15" y2="1438.80" stroke="#000" stroke-width="4.3" stroke-linecap="round"/>
<line x1="134.60" y1="1432.90" x2="122.50" y2="1432.90" stroke="#000" stroke-width="4.3" stroke-linecap="round"/>
<line x1="134.60" y1="1316.86" x2="122.50" y2="1316.86" stroke="#000" stroke-width="4.3" stroke-linecap="round"/>
<line x1="134.60" y1="1200.82" x2="122.50" y2="1200.82" stroke="#000" stroke-width="4.3" stroke-linecap="round"/>
<line x1="134.60" y1="1084.78" x2="122.50" y2="1084.78" stroke="#000" stroke-width="4.3" stroke-linecap="round"/>
<line x1="134.60" y1="968.74" x2="122.50" y2="968.74" stroke="#000" stroke-width="4.3" stroke-linecap="round"/>
<line x1="134.60" y1="852.70" x2="122.50" y2="852.70" stroke="#000" stroke-width="4.3" stroke-linecap="round"/>
<line x1="134.60" y1="1374.88" x2="128.70" y2="1374.88" stroke="#000" stroke-width="4.3" stroke-linecap="round"/>
<line x1="134.60" y1="1258.84" x2="128.70" y2="1258.84" stroke="#000" stroke-width="4.3" stroke-linecap="round"/>
<line x1="134.60" y1="1142.80" x2="128.70" y2="1142.80" stroke="#000" stroke-width="4.3" stroke-linecap="round"/>
<line x1="134.60" y1="1026.76" x2="128.70" y2="1026.76" stroke="#000" stroke-width="4.3" stroke-linecap="round"/>
<line x1="134.60" y1="910.72" x2="128.70" y2="910.72" stroke="#000" stroke-width="4.3" stroke-linecap="round"/>
<text x="214.40" y="0" transform="translate(0 1471.20) scale(1 1.030)" text-anchor="middle" font-size="24.60" font-weight="bold">350</text>
<text x="413.10" y="0" transform="translate(0 1471.20) scale(1 1.030)" text-anchor="middle" font-size="24.60" font-weight="bold">400</text>
<text x="611.80" y="0" transform="translate(0 1471.20) scale(1 1.030)" text-anchor="middle" font-size="24.60" font-weight="bold">450</text>
<text x="810.50" y="0" transform="translate(0 1471.20) scale(1 1.030)" text-anchor="middle" font-size="24.60" font-weight="bold">500</text>
<text x="115.30" y="0" transform="translate(0 1439.70) scale(1 1.030)" text-anchor="end" font-size="24.60" font-weight="bold">0.0</text>
<text x="115.30" y="0" transform="translate(0 1323.66) scale(1 1.030)" text-anchor="end" font-size="24.60" font-weight="bold">0.2</text>
<text x="115.30" y="0" transform="translate(0 1207.62) scale(1 1.030)" text-anchor="end" font-size="24.60" font-weight="bold">0.4</text>
<text x="115.30" y="0" transform="translate(0 1091.58) scale(1 1.030)" text-anchor="end" font-size="24.60" font-weight="bold">0.6</text>
<text x="115.30" y="0" transform="translate(0 975.54) scale(1 1.030)" text-anchor="end" font-size="24.60" font-weight="bold">0.8</text>
<text x="115.30" y="0" transform="translate(0 859.50) scale(1 1.030)" text-anchor="end" font-size="24.60" font-weight="bold">1.0</text>
<path d="M136.80,1403.10 C137.29,1402.95 138.75,1402.50 139.72,1402.20 C140.69,1401.90 141.67,1401.60 142.64,1401.30 C143.61,1401.00 144.59,1400.70 145.56,1400.40 C146.54,1400.10 147.51,1399.80 148.48,1399.50 C149.46,1399.20 150.43,1398.90 151.41,1398.60 C152.38,1398.30 153.36,1398.00 154.33,1397.70 C155.30,1397.40 156.28,1397.09 157.25,1396.79 C158.23,1396.49 159.20,1396.19 160.18,1395.88 C161.15,1395.58 162.13,1395.28 163.10,1394.97 C164.08,1394.67 165.05,1394.36 166.03,1394.06 C167.00,1393.75 167.98,1393.44 168.95,1393.14 C169.92,1392.83 170.90,1392.52 171.87,1392.21 C172.85,1391.91 173.82,1391.60 174.80,1391.29 C175.77,1390.98 176.74,1390.67 177.72,1390.36 C178.69,1390.05 179.66,1389.73 180.64,1389.42 C181.61,1389.11 182.58,1388.79 183.56,1388.48 C184.53,1388.16 185.50,1387.85 186.47,1387.53 C187.45,1387.22 188.42,1386.90 189.39,1386.58 C190.36,1386.26 191.33,1385.94 192.30,1385.62 C193.27,1385.30 194.24,1384.98 195.22,1384.65 C196.19,1384.33 197.16,1384.01 198.12,1383.68 C199.09,1383.36 200.06,1383.03 201.03,1382.70 C202.00,1382.37 202.97,1382.05 203.94,1381.71 C204.90,1381.38 205.87,1381.05 206.84,1380.72 C207.80,1380.39 208.77,1380.05 209.74,1379.72 C210.70,1379.38 211.67,1379.04 212.63,1378.70 C213.59,1378.37 214.56,1378.03 215.52,1377.68 C216.49,1377.34 217.45,1377.00 218.41,1376.65 C219.37,1376.31 220.33,1375.96 221.29,1375.62 C222.25,1375.27 223.21,1374.92 224.17,1374.57 C225.13,1374.21 226.09,1373.86 227.05,1373.51 C228.01,1373.15 228.96,1372.80 229.92,1372.44 C230.88,1372.08 231.83,1371.72 232.79,1371.36 C233.74,1370.99 234.70,1370.63 235.65,1370.26 C236.60,1369.90 237.55,1369.53 238.50,1369.16 C239.46,1368.79 240.41,1368.42 241.36,1368.05 C242.31,1367.67 243.25,1367.30 244.20,1366.92 C245.15,1366.54 246.10,1366.16 247.04,1365.78 C247.99,1365.40 248.93,1365.01 249.88,1364.63 C250.82,1364.24 251.76,1363.85 252.71,1363.46 C253.65,1363.07 254.59,1362.68 255.53,1362.28 C256.47,1361.89 257.41,1361.49 258.34,1361.09 C259.28,1360.69 260.22,1360.29 261.15,1359.88 C262.09,1359.48 263.02,1359.07 263.96,1358.66 C264.89,1358.25 265.82,1357.84 266.75,1357.43 C267.68,1357.01 268.61,1356.59 269.54,1356.17 C270.47,1355.75 271.39,1355.33 272.32,1354.91 C273.25,1354.48 274.17,1354.06 275.09,1353.63 C276.02,1353.20 276.94,1352.76 277.86,1352.33 C278.78,1351.89 279.70,1351.45 280.62,1351.01 C281.53,1350.57 282.45,1350.13 283.36,1349.68 C284.28,1349.23 285.19,1348.78 286.11,1348.33 C287.02,1347.88 287.93,1347.42 288.84,1346.97 C289.75,1346.51 290.66,1346.05 291.56,1345.58 C292.47,1345.12 293.37,1344.65 294.28,1344.18 C295.18,1343.71 296.08,1343.24 296.98,1342.76 C297.88,1342.28 298.78,1341.80 299.68,1341.32 C300.57,1340.84 301.47,1340.35 302.36,1339.86 C303.26,1339.37 304.15,1338.88 305.04,1338.39 C305.93,1337.89 306.82,1337.39 307.71,1336.89 C308.60,1336.39 309.48,1335.88 310.36,1335.37 C311.25,1334.86 312.13,1334.35 313.01,1333.83 C313.89,1333.32 314.77,1332.80 315.65,1332.28 C316.52,1331.75 317.40,1331.23 318.27,1330.70 C319.15,1330.17 320.02,1329.63 320.89,1329.10 C321.76,1328.56 323.06,1327.74 323.49,1327.47 L328.22,1322.41 C328.62,1322.15 329.82,1321.39 330.62,1320.87 C331.42,1320.35 332.22,1319.83 333.01,1319.30 C333.81,1318.76 334.61,1318.22 335.41,1317.68 C336.21,1317.14 337.01,1316.59 337.81,1316.03 C338.61,1315.48 339.41,1314.92 340.22,1314.35 C341.02,1313.79 341.82,1313.22 342.63,1312.64 C343.43,1312.07 344.23,1311.49 345.04,1310.91 C345.85,1310.33 346.65,1309.74 347.46,1309.16 C348.27,1308.57 349.08,1307.98 349.89,1307.39 C350.70,1306.79 351.51,1306.20 352.32,1305.60 C353.14,1305.00 353.95,1304.40 354.77,1303.80 C355.59,1303.20 356.40,1302.60 357.23,1302.00 C358.05,1301.40 358.87,1300.79 359.69,1300.19 C360.52,1299.59 361.34,1298.98 362.17,1298.38 C363.00,1297.78 363.83,1297.17 364.66,1296.57 C365.50,1295.97 366.33,1295.37 367.17,1294.77 C368.01,1294.17 368.85,1293.57 369.69,1292.98 C370.54,1292.38 371.38,1291.79 372.23,1291.19 C373.08,1290.60 373.93,1290.01 374.79,1289.43 C375.64,1288.84 376.50,1288.26 377.36,1287.68 C378.22,1287.10 379.08,1286.53 379.95,1285.95 C380.82,1285.38 381.69,1284.82 382.56,1284.25 C383.43,1283.69 384.31,1283.13 385.18,1282.58 C386.06,1282.03 386.94,1281.48 387.83,1280.94 C388.71,1280.40 389.60,1279.86 390.49,1279.33 C391.38,1278.81 392.27,1278.28 393.16,1277.77 C394.06,1277.25 394.95,1276.74 395.85,1276.24 C396.75,1275.74 397.66,1275.24 398.56,1274.76 C399.47,1274.27 400.37,1273.79 401.28,1273.32 C402.19,1272.85 403.11,1272.39 404.02,1271.94 C404.93,1271.49 405.85,1271.04 406.77,1270.61 C407.69,1270.18 408.61,1269.75 409.53,1269.34 C410.46,1268.92 411.38,1268.52 412.31,1268.13 C413.24,1267.73 414.17,1267.35 415.10,1266.98 C416.03,1266.61 416.97,1266.25 417.90,1265.90 C418.84,1265.55 419.78,1265.21 420.72,1264.89 C421.66,1264.56 422.60,1264.25 423.54,1263.95 C424.49,1263.65 425.43,1263.36 426.38,1263.09 C427.33,1262.82 428.28,1262.56 429.23,1262.31 C430.18,1262.06 431.13,1261.83 432.09,1261.61 C433.04,1261.39 434.00,1261.19 434.96,1261.00 C435.91,1260.81 436.87,1260.64 437.83,1260.48 C438.80,1260.32 439.76,1260.18 440.72,1260.05 C441.69,1259.92 442.65,1259.81 443.62,1259.72 C444.58,1259.62 445.55,1259.54 446.52,1259.48 C447.49,1259.41 448.46,1259.36 449.43,1259.33 C450.40,1259.29 451.37,1259.27 452.34,1259.27 C453.31,1259.26 454.28,1259.27 455.25,1259.30 C456.23,1259.32 457.20,1259.36 458.17,1259.41 C459.14,1259.47 460.11,1259.53 461.09,1259.61 C462.06,1259.69 463.03,1259.79 464.00,1259.90 C464.97,1260.00 465.94,1260.13 466.91,1260.26 C467.88,1260.39 468.85,1260.54 469.81,1260.70 C470.78,1260.86 471.75,1261.04 472.71,1261.22 C473.68,1261.41 474.64,1261.61 475.60,1261.82 C476.57,1262.03 477.53,1262.25 478.48,1262.48 C479.44,1262.72 480.40,1262.97 481.35,1263.22 C482.31,1263.48 483.26,1263.75 484.21,1264.03 C485.16,1264.32 486.11,1264.61 487.06,1264.91 C488.00,1265.22 488.94,1265.53 489.88,1265.86 C490.82,1266.18 491.76,1266.52 492.69,1266.86 C493.63,1267.21 494.56,1267.57 495.49,1267.93 C496.41,1268.30 497.34,1268.68 498.26,1269.06 C499.18,1269.45 500.10,1269.85 501.01,1270.25 C501.93,1270.66 502.84,1271.07 503.74,1271.50 C504.65,1271.92 505.56,1272.35 506.46,1272.79 C507.36,1273.23 508.26,1273.68 509.15,1274.14 C510.05,1274.60 510.94,1275.06 511.83,1275.53 C512.72,1276.00 513.61,1276.48 514.50,1276.97 C515.38,1277.45 516.26,1277.94 517.14,1278.44 C518.02,1278.94 518.90,1279.44 519.78,1279.95 C520.66,1280.46 521.53,1280.98 522.40,1281.50 C523.27,1282.02 524.14,1282.54 525.01,1283.07 C525.88,1283.60 526.75,1284.14 527.61,1284.67 C528.48,1285.21 529.34,1285.76 530.20,1286.30 C531.07,1286.85 531.93,1287.40 532.79,1287.95 C533.65,1288.50 534.50,1289.06 535.36,1289.62 C536.22,1290.17 537.08,1290.74 537.93,1291.30 C538.79,1291.86 539.64,1292.43 540.49,1292.99 C541.35,1293.56 542.20,1294.12 543.05,1294.69 C543.91,1295.26 544.76,1295.83 545.61,1296.40 C546.46,1296.97 547.31,1297.54 548.16,1298.11 C549.01,1298.68 549.86,1299.25 550.71,1299.82 C551.56,1300.39 552.41,1300.96 553.27,1301.53 C554.12,1302.10 554.97,1302.66 555.82,1303.23 C556.67,1303.79 557.52,1304.36 558.37,1304.92 C559.22,1305.49 560.07,1306.05 560.93,1306.61 C561.78,1307.17 562.63,1307.73 563.48,1308.29 C564.33,1308.85 565.19,1309.41 566.04,1309.96 C566.89,1310.52 567.74,1311.07 568.60,1311.63 C569.45,1312.18 570.30,1312.73 571.16,1313.29 C572.01,1313.84 572.86,1314.39 573.72,1314.94 C574.57,1315.48 575.43,1316.03 576.28,1316.58 C577.14,1317.12 577.99,1317.67 578.85,1318.21 C579.70,1318.75 580.56,1319.30 581.41,1319.84 C582.27,1320.38 583.13,1320.91 583.98,1321.45 C584.84,1321.99 585.70,1322.52 586.56,1323.06 C587.42,1323.59 588.27,1324.13 589.13,1324.66 C589.99,1325.19 590.85,1325.72 591.71,1326.25 C592.57,1326.77 593.43,1327.30 594.29,1327.83 C595.15,1328.35 596.01,1328.87 596.88,1329.40 C597.74,1329.92 598.60,1330.44 599.46,1330.95 C600.33,1331.47 601.19,1331.99 602.05,1332.50 C602.92,1333.02 603.78,1333.53 604.65,1334.04 C605.51,1334.56 606.38,1335.06 607.25,1335.57 C608.11,1336.08 608.98,1336.59 609.85,1337.09 C610.72,1337.60 611.58,1338.10 612.45,1338.60 C613.32,1339.10 614.19,1339.60 615.06,1340.09 C615.93,1340.59 616.80,1341.09 617.68,1341.58 C618.55,1342.07 619.42,1342.56 620.30,1343.05 C621.17,1343.54 622.04,1344.03 622.92,1344.51 C623.79,1345.00 624.67,1345.48 625.55,1345.96 C626.42,1346.44 627.30,1346.92 628.18,1347.40 C629.06,1347.88 629.94,1348.35 630.82,1348.83 C631.70,1349.30 632.58,1349.77 633.46,1350.24 C634.34,1350.71 635.22,1351.17 636.11,1351.64 C636.99,1352.10 637.87,1352.56 638.76,1353.02 C639.64,1353.48 640.53,1353.94 641.42,1354.40 C642.31,1354.85 643.19,1355.31 644.08,1355.76 C644.97,1356.21 645.86,1356.66 646.75,1357.10 C647.64,1357.55 648.54,1357.99 649.43,1358.44 C650.32,1358.88 651.22,1359.32 652.11,1359.76 C653.01,1360.19 653.90,1360.63 654.80,1361.06 C655.70,1361.49 656.60,1361.92 657.50,1362.35 C658.40,1362.78 659.30,1363.20 660.20,1363.63 C661.10,1364.05 662.00,1364.47 662.91,1364.89 C663.81,1365.30 664.72,1365.72 665.62,1366.13 C666.53,1366.54 667.44,1366.96 668.34,1367.36 C669.25,1367.77 670.16,1368.18 671.07,1368.58 C671.99,1368.98 672.90,1369.38 673.81,1369.78 C674.72,1370.17 675.64,1370.57 676.56,1370.96 C677.47,1371.35 678.39,1371.74 679.31,1372.13 C680.23,1372.52 681.15,1372.90 682.07,1373.28 C682.99,1373.66 683.91,1374.04 684.84,1374.41 C685.76,1374.79 686.68,1375.16 687.61,1375.53 C688.54,1375.90 689.47,1376.27 690.40,1376.63 C691.32,1377.00 692.26,1377.36 693.19,1377.72 C694.12,1378.08 695.05,1378.43 695.99,1378.79 C696.92,1379.14 697.86,1379.49 698.80,1379.84 C699.74,1380.18 700.68,1380.53 701.62,1380.87 C702.56,1381.21 703.50,1381.55 704.44,1381.88 C705.39,1382.22 706.33,1382.55 707.28,1382.88 C708.23,1383.21 709.18,1383.53 710.13,1383.86 C711.08,1384.18 712.03,1384.50 712.98,1384.82 C713.93,1385.13 714.89,1385.45 715.85,1385.76 C716.80,1386.07 717.76,1386.37 718.72,1386.68 C719.68,1386.98 720.64,1387.28 721.60,1387.58 C722.56,1387.88 723.53,1388.17 724.49,1388.47 C725.46,1388.76 726.43,1389.05 727.39,1389.33 C728.36,1389.62 729.33,1389.90 730.30,1390.18 C731.27,1390.46 732.24,1390.73 733.22,1391.01 C734.19,1391.28 735.16,1391.55 736.14,1391.82 C737.12,1392.08 738.09,1392.35 739.07,1392.61 C740.05,1392.87 741.03,1393.12 742.01,1393.38 C742.99,1393.63 743.97,1393.88 744.95,1394.13 C745.93,1394.38 746.92,1394.62 747.90,1394.86 C748.88,1395.11 749.87,1395.34 750.85,1395.58 C751.84,1395.82 752.83,1396.05 753.82,1396.28 C754.80,1396.51 755.79,1396.73 756.78,1396.95 C757.77,1397.18 758.76,1397.40 759.75,1397.61 C760.74,1397.83 761.73,1398.04 762.73,1398.25 C763.72,1398.46 764.71,1398.67 765.70,1398.88 C766.70,1399.08 767.69,1399.28 768.69,1399.48 C769.68,1399.68 770.68,1399.87 771.67,1400.06 C772.67,1400.25 773.67,1400.44 774.66,1400.63 C775.66,1400.81 776.66,1400.99 777.66,1401.17 C778.65,1401.35 779.65,1401.53 780.65,1401.70 C781.65,1401.87 782.65,1402.04 783.65,1402.21 C784.65,1402.38 785.65,1402.54 786.65,1402.70 C787.64,1402.86 788.65,1403.02 789.65,1403.17 C790.65,1403.32 791.65,1403.47 792.65,1403.62 C793.65,1403.77 794.65,1403.91 795.65,1404.06 C796.65,1404.20 797.65,1404.33 798.65,1404.47 C799.65,1404.60 800.65,1404.74 801.65,1404.87 C802.66,1404.99 803.66,1405.12 804.66,1405.24 C805.66,1405.36 806.66,1405.48 807.66,1405.60 C808.66,1405.72 809.66,1405.83 810.66,1405.94 C811.66,1406.05 812.66,1406.16 813.66,1406.26 C814.66,1406.36 815.66,1406.46 816.66,1406.56 C817.66,1406.66 818.66,1406.75 819.66,1406.84 C820.66,1406.93 821.65,1407.02 822.65,1407.11 C823.65,1407.19 824.65,1407.27 825.65,1407.35 C826.64,1407.43 827.64,1407.50 828.64,1407.58 C829.63,1407.65 830.63,1407.72 831.62,1407.78 C832.62,1407.85 833.61,1407.91 834.61,1407.97 C835.60,1408.03 836.59,1408.09 837.59,1408.14 C838.58,1408.19 839.57,1408.24 840.56,1408.29 C841.55,1408.34 842.54,1408.38 843.53,1408.42 C844.52,1408.46 845.51,1408.50 846.50,1408.54 C847.49,1408.57 848.97,1408.61 849.46,1408.63" fill="none" stroke="#000000" stroke-width="4.5" stroke-linejoin="round" stroke-linecap="butt"/>
<path d="M136.81,1395.92 C137.29,1395.76 138.72,1395.27 139.68,1394.94 C140.64,1394.61 141.59,1394.28 142.55,1393.95 C143.51,1393.62 144.46,1393.30 145.42,1392.97 C146.38,1392.64 147.34,1392.31 148.29,1391.97 C149.25,1391.64 150.21,1391.31 151.16,1390.98 C152.12,1390.65 153.08,1390.31 154.04,1389.98 C154.99,1389.65 155.95,1389.31 156.91,1388.98 C157.87,1388.64 158.82,1388.30 159.78,1387.97 C160.74,1387.63 161.70,1387.29 162.65,1386.95 C163.61,1386.61 164.57,1386.27 165.52,1385.93 C166.48,1385.59 167.44,1385.25 168.39,1384.91 C169.35,1384.57 170.31,1384.22 171.26,1383.88 C172.22,1383.53 173.17,1383.19 174.13,1382.84 C175.08,1382.50 176.04,1382.15 176.99,1381.80 C177.95,1381.45 178.90,1381.10 179.86,1380.75 C180.81,1380.40 181.77,1380.05 182.72,1379.69 C183.67,1379.34 184.63,1378.99 185.58,1378.63 C186.53,1378.27 187.49,1377.92 188.44,1377.56 C189.39,1377.20 190.34,1376.84 191.29,1376.48 C192.24,1376.12 193.20,1375.75 194.15,1375.39 C195.10,1375.03 196.05,1374.66 196.99,1374.29 C197.94,1373.93 198.89,1373.56 199.84,1373.19 C200.79,1372.82 201.74,1372.45 202.68,1372.08 C203.63,1371.70 204.58,1371.33 205.52,1370.95 C206.47,1370.58 207.41,1370.20 208.36,1369.82 C209.30,1369.44 210.24,1369.06 211.19,1368.68 C212.13,1368.30 213.07,1367.91 214.01,1367.53 C214.95,1367.14 215.89,1366.75 216.83,1366.36 C217.77,1365.97 218.71,1365.58 219.65,1365.19 C220.59,1364.80 221.53,1364.40 222.46,1364.01 C223.40,1363.61 224.34,1363.21 225.27,1362.81 C226.21,1362.41 227.14,1362.01 228.07,1361.60 C229.00,1361.20 229.94,1360.79 230.87,1360.38 C231.80,1359.98 232.73,1359.57 233.66,1359.15 C234.59,1358.74 235.51,1358.33 236.44,1357.91 C237.37,1357.49 238.29,1357.07 239.22,1356.65 C240.14,1356.23 241.07,1355.81 241.99,1355.39 C242.91,1354.96 243.83,1354.53 244.75,1354.10 C245.67,1353.67 246.59,1353.24 247.51,1352.81 C248.43,1352.37 249.35,1351.94 250.26,1351.50 C251.18,1351.06 252.09,1350.62 253.01,1350.17 C253.92,1349.73 254.83,1349.29 255.74,1348.84 C256.65,1348.39 257.56,1347.94 258.47,1347.48 C259.38,1347.03 260.28,1346.58 261.19,1346.12 C262.09,1345.66 263.00,1345.20 263.90,1344.74 C264.80,1344.27 265.70,1343.81 266.60,1343.34 C267.50,1342.87 268.40,1342.40 269.30,1341.92 C270.19,1341.45 271.09,1340.97 271.98,1340.49 C272.88,1340.01 273.77,1339.53 274.66,1339.05 C275.55,1338.56 276.44,1338.08 277.33,1337.59 C278.21,1337.10 279.10,1336.60 279.98,1336.11 C280.87,1335.61 281.75,1335.11 282.63,1334.61 C283.51,1334.11 284.39,1333.60 285.27,1333.10 C286.15,1332.59 287.02,1332.08 287.90,1331.56 C288.77,1331.05 289.64,1330.53 290.52,1330.01 C291.39,1329.49 292.26,1328.97 293.12,1328.45 C293.99,1327.92 294.86,1327.39 295.72,1326.86 C296.58,1326.33 297.44,1325.79 298.30,1325.25 C299.16,1324.72 300.02,1324.17 300.88,1323.63 C301.73,1323.08 302.59,1322.54 303.44,1321.99 C304.29,1321.43 305.14,1320.88 305.99,1320.32 C306.84,1319.76 307.69,1319.20 308.53,1318.64 C309.37,1318.07 310.22,1317.51 311.06,1316.93 C311.90,1316.36 312.74,1315.79 313.57,1315.21 C314.41,1314.63 315.24,1314.05 316.07,1313.46 C316.91,1312.88 317.74,1312.29 318.56,1311.70 C319.39,1311.11 320.22,1310.51 321.04,1309.91 C321.86,1309.31 323.09,1308.40 323.50,1308.10 L327.19,1301.96 C327.58,1301.67 328.77,1300.79 329.55,1300.19 C330.34,1299.60 331.12,1299.00 331.90,1298.40 C332.67,1297.79 333.45,1297.19 334.22,1296.57 C334.99,1295.96 335.76,1295.35 336.53,1294.73 C337.30,1294.11 338.06,1293.48 338.83,1292.86 C339.59,1292.23 340.35,1291.60 341.11,1290.96 C341.87,1290.33 342.63,1289.69 343.38,1289.04 C344.14,1288.40 344.90,1287.75 345.65,1287.11 C346.40,1286.46 347.16,1285.80 347.91,1285.15 C348.66,1284.49 349.41,1283.83 350.16,1283.17 C350.91,1282.50 351.66,1281.84 352.41,1281.17 C353.17,1280.50 353.92,1279.82 354.67,1279.15 C355.42,1278.47 356.17,1277.79 356.92,1277.11 C357.67,1276.43 358.42,1275.75 359.17,1275.06 C359.93,1274.37 360.68,1273.68 361.43,1272.99 C362.19,1272.30 362.94,1271.61 363.70,1270.91 C364.46,1270.21 365.22,1269.52 365.97,1268.82 C366.73,1268.12 367.49,1267.42 368.26,1266.73 C369.02,1266.03 369.78,1265.33 370.55,1264.63 C371.31,1263.93 372.08,1263.23 372.85,1262.54 C373.62,1261.84 374.39,1261.15 375.16,1260.45 C375.94,1259.76 376.71,1259.07 377.49,1258.38 C378.27,1257.69 379.05,1257.00 379.83,1256.32 C380.61,1255.63 381.40,1254.95 382.18,1254.28 C382.97,1253.60 383.76,1252.93 384.55,1252.26 C385.35,1251.59 386.14,1250.92 386.94,1250.27 C387.74,1249.61 388.54,1248.95 389.35,1248.30 C390.15,1247.66 390.96,1247.01 391.77,1246.38 C392.58,1245.74 393.39,1245.11 394.21,1244.49 C395.03,1243.86 395.85,1243.25 396.68,1242.64 C397.50,1242.03 398.33,1241.43 399.16,1240.84 C399.99,1240.25 400.83,1239.66 401.67,1239.09 C402.51,1238.51 403.35,1237.95 404.20,1237.39 C405.05,1236.83 405.90,1236.29 406.76,1235.75 C407.62,1235.21 408.48,1234.69 409.34,1234.17 C410.21,1233.66 411.08,1233.15 411.95,1232.66 C412.83,1232.17 413.71,1231.69 414.59,1231.22 C415.48,1230.75 416.37,1230.29 417.26,1229.85 C418.16,1229.41 419.06,1228.97 419.96,1228.56 C420.86,1228.14 421.77,1227.74 422.69,1227.35 C423.61,1226.96 424.53,1226.58 425.45,1226.22 C426.38,1225.86 427.31,1225.51 428.25,1225.18 C429.18,1224.85 430.13,1224.54 431.07,1224.24 C432.02,1223.94 432.97,1223.65 433.92,1223.38 C434.87,1223.12 435.83,1222.86 436.79,1222.63 C437.75,1222.39 438.72,1222.17 439.69,1221.97 C440.65,1221.77 441.62,1221.58 442.59,1221.41 C443.56,1221.24 444.54,1221.09 445.51,1220.95 C446.49,1220.82 447.46,1220.70 448.44,1220.60 C449.42,1220.50 450.40,1220.42 451.37,1220.35 C452.35,1220.29 453.33,1220.24 454.31,1220.21 C455.29,1220.19 456.27,1220.18 457.24,1220.19 C458.22,1220.20 459.20,1220.23 460.17,1220.28 C461.15,1220.32 462.12,1220.39 463.09,1220.48 C464.07,1220.56 465.04,1220.67 466.00,1220.80 C466.97,1220.92 467.93,1221.07 468.90,1221.24 C469.86,1221.40 470.82,1221.58 471.77,1221.79 C472.73,1221.99 473.68,1222.21 474.63,1222.44 C475.58,1222.68 476.53,1222.94 477.47,1223.21 C478.41,1223.48 479.35,1223.76 480.28,1224.07 C481.21,1224.37 482.14,1224.69 483.06,1225.02 C483.99,1225.35 484.91,1225.70 485.82,1226.06 C486.74,1226.43 487.65,1226.80 488.55,1227.19 C489.46,1227.58 490.36,1227.98 491.26,1228.40 C492.16,1228.82 493.05,1229.25 493.94,1229.69 C494.83,1230.13 495.71,1230.58 496.59,1231.05 C497.47,1231.51 498.35,1231.99 499.22,1232.47 C500.10,1232.96 500.97,1233.46 501.83,1233.97 C502.70,1234.48 503.56,1234.99 504.42,1235.52 C505.28,1236.05 506.14,1236.59 506.99,1237.13 C507.84,1237.68 508.69,1238.24 509.54,1238.80 C510.38,1239.37 511.23,1239.94 512.07,1240.52 C512.91,1241.10 513.74,1241.69 514.58,1242.28 C515.41,1242.87 516.25,1243.48 517.08,1244.08 C517.91,1244.69 518.73,1245.31 519.56,1245.93 C520.38,1246.55 521.20,1247.17 522.02,1247.80 C522.85,1248.43 523.66,1249.07 524.48,1249.71 C525.30,1250.35 526.11,1251.00 526.92,1251.65 C527.73,1252.29 528.55,1252.95 529.35,1253.60 C530.16,1254.26 530.97,1254.92 531.78,1255.58 C532.58,1256.24 533.39,1256.90 534.19,1257.57 C534.99,1258.23 535.79,1258.90 536.60,1259.57 C537.40,1260.24 538.20,1260.91 538.99,1261.58 C539.79,1262.25 540.59,1262.92 541.39,1263.59 C542.18,1264.26 542.98,1264.93 543.78,1265.60 C544.57,1266.27 545.37,1266.94 546.16,1267.61 C546.95,1268.28 547.75,1268.95 548.54,1269.61 C549.34,1270.27 550.13,1270.94 550.92,1271.60 C551.72,1272.26 552.51,1272.91 553.30,1273.57 C554.10,1274.22 554.89,1274.87 555.68,1275.52 C556.48,1276.17 557.27,1276.81 558.06,1277.45 C558.86,1278.09 559.65,1278.73 560.45,1279.37 C561.24,1280.00 562.04,1280.63 562.83,1281.26 C563.63,1281.89 564.42,1282.52 565.22,1283.14 C566.01,1283.77 566.81,1284.39 567.60,1285.01 C568.40,1285.62 569.19,1286.24 569.99,1286.85 C570.79,1287.47 571.58,1288.08 572.38,1288.69 C573.18,1289.30 573.98,1289.90 574.77,1290.51 C575.57,1291.11 576.37,1291.71 577.17,1292.31 C577.97,1292.91 578.77,1293.51 579.57,1294.11 C580.37,1294.70 581.17,1295.30 581.97,1295.89 C582.77,1296.48 583.57,1297.07 584.38,1297.66 C585.18,1298.25 585.98,1298.84 586.78,1299.42 C587.59,1300.01 588.39,1300.59 589.20,1301.17 C590.00,1301.75 590.81,1302.34 591.61,1302.91 C592.42,1303.49 593.23,1304.07 594.03,1304.65 C594.84,1305.23 595.65,1305.80 596.46,1306.38 C597.27,1306.95 598.08,1307.52 598.89,1308.10 C599.70,1308.67 600.51,1309.24 601.33,1309.81 C602.14,1310.38 602.95,1310.95 603.77,1311.52 C604.58,1312.09 605.40,1312.66 606.21,1313.22 C607.03,1313.79 607.84,1314.36 608.66,1314.92 C609.48,1315.49 610.30,1316.06 611.12,1316.62 C611.94,1317.19 612.76,1317.75 613.58,1318.32 C614.41,1318.88 615.23,1319.45 616.05,1320.01 C616.88,1320.58 617.70,1321.14 618.53,1321.70 C619.36,1322.27 620.19,1322.83 621.01,1323.40 C621.84,1323.96 622.67,1324.52 623.51,1325.09 C624.34,1325.65 625.17,1326.21 626.00,1326.77 C626.84,1327.33 627.67,1327.89 628.51,1328.45 C629.34,1329.01 630.18,1329.57 631.02,1330.13 C631.86,1330.69 632.70,1331.25 633.54,1331.80 C634.38,1332.36 635.23,1332.91 636.07,1333.47 C636.91,1334.02 637.76,1334.58 638.61,1335.13 C639.45,1335.68 640.30,1336.23 641.15,1336.78 C642.00,1337.32 642.85,1337.87 643.70,1338.42 C644.55,1338.96 645.41,1339.50 646.26,1340.05 C647.12,1340.59 647.97,1341.13 648.83,1341.66 C649.69,1342.20 650.55,1342.74 651.41,1343.27 C652.27,1343.81 653.13,1344.34 654.00,1344.87 C654.86,1345.39 655.73,1345.92 656.59,1346.45 C657.46,1346.97 658.33,1347.49 659.20,1348.01 C660.07,1348.53 660.94,1349.05 661.81,1349.56 C662.69,1350.08 663.56,1350.59 664.44,1351.10 C665.31,1351.61 666.19,1352.11 667.07,1352.61 C667.95,1353.12 668.83,1353.62 669.72,1354.11 C670.60,1354.61 671.48,1355.10 672.37,1355.59 C673.26,1356.08 674.14,1356.57 675.03,1357.05 C675.92,1357.54 676.82,1358.02 677.71,1358.49 C678.60,1358.97 679.50,1359.44 680.39,1359.91 C681.29,1360.38 682.19,1360.84 683.09,1361.30 C683.99,1361.77 684.89,1362.22 685.80,1362.68 C686.70,1363.13 687.61,1363.58 688.51,1364.02 C689.42,1364.47 690.33,1364.91 691.24,1365.34 C692.15,1365.78 693.07,1366.21 693.98,1366.64 C694.90,1367.07 695.82,1367.49 696.73,1367.91 C697.65,1368.33 698.58,1368.74 699.50,1369.15 C700.42,1369.56 701.35,1369.96 702.27,1370.36 C703.20,1370.76 704.13,1371.16 705.06,1371.55 C705.99,1371.94 706.92,1372.33 707.86,1372.71 C708.79,1373.09 709.73,1373.47 710.66,1373.84 C711.60,1374.21 712.54,1374.58 713.48,1374.94 C714.42,1375.31 715.37,1375.66 716.31,1376.02 C717.26,1376.37 718.20,1376.73 719.15,1377.07 C720.10,1377.42 721.05,1377.76 722.00,1378.10 C722.95,1378.43 723.90,1378.77 724.85,1379.10 C725.81,1379.43 726.76,1379.75 727.72,1380.07 C728.68,1380.39 729.64,1380.71 730.60,1381.02 C731.56,1381.34 732.52,1381.65 733.48,1381.95 C734.44,1382.25 735.41,1382.56 736.37,1382.85 C737.34,1383.15 738.30,1383.44 739.27,1383.73 C740.24,1384.02 741.21,1384.31 742.18,1384.59 C743.15,1384.87 744.12,1385.15 745.09,1385.42 C746.07,1385.69 747.04,1385.96 748.01,1386.23 C748.99,1386.50 749.97,1386.76 750.94,1387.02 C751.92,1387.28 752.90,1387.53 753.88,1387.78 C754.86,1388.03 755.84,1388.28 756.82,1388.53 C757.80,1388.77 758.78,1389.01 759.76,1389.25 C760.75,1389.49 761.73,1389.72 762.72,1389.95 C763.70,1390.18 764.69,1390.41 765.67,1390.63 C766.66,1390.86 767.65,1391.08 768.64,1391.29 C769.62,1391.51 770.61,1391.72 771.60,1391.94 C772.59,1392.15 773.58,1392.35 774.58,1392.56 C775.57,1392.76 776.56,1392.96 777.55,1393.16 C778.54,1393.36 779.54,1393.55 780.53,1393.74 C781.53,1393.94 782.52,1394.12 783.51,1394.31 C784.51,1394.49 785.51,1394.68 786.50,1394.86 C787.50,1395.04 788.49,1395.21 789.49,1395.39 C790.49,1395.56 791.49,1395.73 792.48,1395.90 C793.48,1396.07 794.48,1396.23 795.48,1396.39 C796.48,1396.56 797.48,1396.71 798.48,1396.87 C799.47,1397.03 800.47,1397.18 801.47,1397.33 C802.47,1397.48 803.47,1397.63 804.47,1397.78 C805.48,1397.92 806.48,1398.07 807.48,1398.21 C808.48,1398.35 809.48,1398.49 810.48,1398.62 C811.48,1398.76 812.48,1398.89 813.48,1399.02 C814.48,1399.15 815.49,1399.28 816.49,1399.41 C817.49,1399.53 818.49,1399.66 819.49,1399.78 C820.49,1399.90 821.49,1400.02 822.50,1400.14 C823.50,1400.25 824.50,1400.37 825.50,1400.48 C826.50,1400.59 827.50,1400.70 828.50,1400.81 C829.50,1400.92 830.50,1401.02 831.50,1401.13 C832.50,1401.23 833.50,1401.33 834.50,1401.43 C835.50,1401.53 836.50,1401.63 837.50,1401.72 C838.50,1401.82 839.50,1401.91 840.50,1402.00 C841.50,1402.09 842.50,1402.18 843.50,1402.27 C844.49,1402.36 845.49,1402.44 846.49,1402.53 C847.49,1402.61 848.98,1402.73 849.48,1402.77" fill="none" stroke="#00ff00" stroke-width="4.5" stroke-linejoin="round" stroke-linecap="butt"/>
<path d="M136.83,1347.69 C137.28,1347.49 138.63,1346.88 139.53,1346.48 C140.43,1346.07 141.33,1345.66 142.24,1345.25 C143.14,1344.85 144.04,1344.44 144.95,1344.02 C145.85,1343.61 146.76,1343.20 147.66,1342.79 C148.57,1342.37 149.47,1341.96 150.38,1341.54 C151.28,1341.13 152.19,1340.71 153.09,1340.29 C154.00,1339.87 154.90,1339.45 155.81,1339.03 C156.72,1338.61 157.62,1338.18 158.53,1337.76 C159.43,1337.34 160.34,1336.91 161.25,1336.48 C162.15,1336.05 163.06,1335.63 163.96,1335.19 C164.87,1334.76 165.78,1334.33 166.68,1333.90 C167.59,1333.46 168.49,1333.03 169.40,1332.59 C170.30,1332.15 171.20,1331.71 172.11,1331.27 C173.01,1330.83 173.91,1330.39 174.82,1329.95 C175.72,1329.50 176.62,1329.06 177.52,1328.61 C178.43,1328.16 179.33,1327.71 180.23,1327.26 C181.13,1326.81 182.03,1326.35 182.93,1325.90 C183.83,1325.44 184.72,1324.98 185.62,1324.52 C186.52,1324.06 187.42,1323.60 188.31,1323.13 C189.21,1322.67 190.10,1322.20 191.00,1321.74 C191.89,1321.27 192.78,1320.80 193.67,1320.32 C194.56,1319.85 195.45,1319.37 196.34,1318.90 C197.23,1318.42 198.12,1317.94 199.01,1317.46 C199.89,1316.97 200.78,1316.49 201.66,1316.00 C202.55,1315.52 203.43,1315.03 204.31,1314.53 C205.19,1314.04 206.07,1313.55 206.95,1313.05 C207.83,1312.55 208.71,1312.05 209.58,1311.55 C210.46,1311.05 211.33,1310.54 212.20,1310.04 C213.08,1309.53 213.95,1309.02 214.81,1308.51 C215.68,1307.99 216.55,1307.48 217.42,1306.96 C218.28,1306.44 219.14,1305.92 220.00,1305.40 C220.87,1304.87 221.72,1304.35 222.58,1303.82 C223.44,1303.29 224.29,1302.75 225.15,1302.22 C226.00,1301.68 226.85,1301.14 227.70,1300.60 C228.55,1300.06 229.39,1299.52 230.24,1298.97 C231.08,1298.42 231.93,1297.87 232.76,1297.32 C233.60,1296.76 234.44,1296.20 235.28,1295.64 C236.11,1295.08 236.94,1294.52 237.77,1293.95 C238.60,1293.39 239.43,1292.82 240.26,1292.24 C241.08,1291.67 241.90,1291.09 242.72,1290.51 C243.54,1289.93 244.36,1289.35 245.17,1288.76 C245.99,1288.18 246.80,1287.59 247.60,1286.99 C248.41,1286.40 249.22,1285.80 250.02,1285.20 C250.82,1284.60 251.62,1283.99 252.42,1283.39 C253.22,1282.78 254.01,1282.17 254.80,1281.55 C255.59,1280.94 256.38,1280.32 257.16,1279.69 C257.95,1279.07 258.73,1278.45 259.51,1277.82 C260.28,1277.19 261.06,1276.55 261.83,1275.92 C262.60,1275.28 263.37,1274.64 264.14,1274.00 C264.90,1273.35 265.67,1272.71 266.43,1272.06 C267.19,1271.41 267.95,1270.75 268.70,1270.10 C269.45,1269.44 270.21,1268.78 270.95,1268.12 C271.70,1267.45 272.45,1266.79 273.19,1266.12 C273.93,1265.45 274.67,1264.77 275.41,1264.10 C276.15,1263.42 276.88,1262.74 277.61,1262.06 C278.34,1261.38 279.07,1260.69 279.80,1260.00 C280.52,1259.31 281.25,1258.62 281.97,1257.93 C282.69,1257.23 283.40,1256.53 284.12,1255.83 C284.83,1255.13 285.54,1254.43 286.25,1253.72 C286.96,1253.02 287.67,1252.31 288.37,1251.60 C289.08,1250.88 289.78,1250.17 290.47,1249.45 C291.17,1248.73 291.87,1248.01 292.56,1247.29 C293.25,1246.57 293.94,1245.84 294.63,1245.11 C295.32,1244.39 296.00,1243.65 296.68,1242.92 C297.37,1242.19 298.05,1241.45 298.72,1240.71 C299.40,1239.97 300.07,1239.23 300.75,1238.49 C301.42,1237.74 302.09,1237.00 302.75,1236.25 C303.42,1235.50 304.08,1234.75 304.74,1234.00 C305.41,1233.24 306.06,1232.49 306.72,1231.73 C307.38,1230.97 308.03,1230.21 308.68,1229.45 C309.33,1228.68 309.98,1227.92 310.63,1227.15 C311.28,1226.38 311.92,1225.61 312.56,1224.84 C313.20,1224.07 313.84,1223.30 314.48,1222.52 C315.11,1221.74 315.75,1220.97 316.38,1220.19 C317.01,1219.41 317.64,1218.62 318.27,1217.84 C318.89,1217.06 319.52,1216.27 320.14,1215.48 C320.76,1214.69 321.38,1213.90 322.00,1213.11 C322.62,1212.32 323.23,1211.52 323.85,1210.73 C324.46,1209.93 325.07,1209.14 325.68,1208.34 C326.29,1207.54 326.89,1206.74 327.50,1205.93 C328.10,1205.13 328.70,1204.32 329.30,1203.52 C329.90,1202.71 330.50,1201.90 331.09,1201.09 C331.69,1200.28 332.28,1199.47 332.87,1198.66 C333.46,1197.85 334.05,1197.03 334.63,1196.22 C335.22,1195.40 335.80,1194.58 336.38,1193.76 C336.97,1192.95 337.55,1192.13 338.12,1191.30 C338.70,1190.48 339.28,1189.66 339.85,1188.83 C340.42,1188.01 340.99,1187.18 341.56,1186.36 C342.13,1185.53 342.70,1184.70 343.26,1183.87 C343.83,1183.04 344.39,1182.21 344.95,1181.38 C345.51,1180.55 346.07,1179.71 346.63,1178.88 C347.18,1178.04 347.74,1177.21 348.29,1176.37 C348.84,1175.54 349.39,1174.70 349.94,1173.86 C350.49,1173.02 351.04,1172.18 351.58,1171.34 C352.13,1170.50 352.67,1169.66 353.21,1168.81 C353.75,1167.97 354.29,1167.13 354.83,1166.28 C355.37,1165.44 355.91,1164.59 356.44,1163.74 C356.98,1162.90 357.51,1162.05 358.04,1161.20 C358.57,1160.35 359.10,1159.50 359.63,1158.65 C360.16,1157.80 360.69,1156.95 361.21,1156.10 C361.74,1155.25 362.27,1154.39 362.79,1153.54 C363.31,1152.69 363.84,1151.83 364.36,1150.98 C364.88,1150.12 365.40,1149.27 365.92,1148.41 C366.44,1147.55 366.95,1146.69 367.47,1145.84 C367.99,1144.98 368.50,1144.12 369.02,1143.26 C369.54,1142.40 370.05,1141.54 370.56,1140.68 C371.08,1139.82 371.59,1138.96 372.10,1138.09 C372.61,1137.23 373.13,1136.37 373.64,1135.50 C374.15,1134.64 374.66,1133.78 375.17,1132.91 C375.68,1132.05 376.19,1131.18 376.70,1130.31 C377.20,1129.45 377.71,1128.58 378.22,1127.71 C378.73,1126.85 379.24,1125.98 379.74,1125.11 C380.25,1124.24 380.76,1123.38 381.27,1122.51 C381.77,1121.64 382.28,1120.77 382.79,1119.90 C383.29,1119.03 383.80,1118.16 384.31,1117.29 C384.81,1116.42 385.32,1115.54 385.83,1114.67 C386.33,1113.80 386.84,1112.93 387.35,1112.06 C387.86,1111.18 388.36,1110.31 388.87,1109.44 C389.38,1108.57 389.89,1107.69 390.40,1106.82 C390.90,1105.95 391.41,1105.07 391.92,1104.20 C392.44,1103.33 392.95,1102.45 393.46,1101.58 C393.97,1100.71 394.49,1099.84 395.01,1098.97 C395.52,1098.10 396.04,1097.24 396.56,1096.37 C397.09,1095.50 397.61,1094.64 398.14,1093.78 C398.67,1092.91 399.19,1092.05 399.73,1091.19 C400.26,1090.34 400.80,1089.48 401.34,1088.63 C401.88,1087.77 402.42,1086.92 402.97,1086.08 C403.52,1085.23 404.07,1084.38 404.63,1083.54 C405.19,1082.70 405.75,1081.87 406.31,1081.03 C406.88,1080.20 407.45,1079.37 408.03,1078.54 C408.61,1077.72 409.19,1076.90 409.78,1076.08 C410.37,1075.26 410.96,1074.45 411.56,1073.64 C412.16,1072.84 412.77,1072.04 413.38,1071.24 C414.00,1070.44 414.62,1069.65 415.24,1068.87 C415.87,1068.08 416.50,1067.30 417.15,1066.53 C417.79,1065.75 418.44,1064.99 419.10,1064.22 C419.75,1063.46 420.42,1062.71 421.09,1061.96 C421.77,1061.21 422.45,1060.47 423.14,1059.74 C423.83,1059.00 424.53,1058.28 425.24,1057.56 C425.95,1056.84 426.67,1056.13 427.40,1055.42 C428.13,1054.72 428.86,1054.03 429.61,1053.34 C430.36,1052.65 431.12,1051.97 431.89,1051.31 C432.65,1050.64 433.43,1049.98 434.22,1049.34 C435.01,1048.70 435.80,1048.08 436.61,1047.47 C437.42,1046.87 438.23,1046.28 439.06,1045.72 C439.88,1045.16 440.72,1044.61 441.56,1044.10 C442.40,1043.59 443.25,1043.10 444.11,1042.64 C444.98,1042.19 445.84,1041.76 446.72,1041.36 C447.60,1040.97 448.49,1040.61 449.38,1040.29 C450.27,1039.97 451.18,1039.68 452.09,1039.44 C452.99,1039.19 453.91,1038.99 454.83,1038.82 C455.75,1038.65 456.68,1038.53 457.60,1038.44 C458.53,1038.35 459.46,1038.30 460.38,1038.29 C461.31,1038.27 462.24,1038.30 463.16,1038.36 C464.08,1038.43 465.00,1038.53 465.91,1038.67 C466.82,1038.81 467.73,1038.98 468.62,1039.20 C469.52,1039.41 470.40,1039.66 471.28,1039.95 C472.15,1040.24 473.02,1040.56 473.87,1040.92 C474.72,1041.28 475.56,1041.68 476.39,1042.11 C477.21,1042.53 478.03,1042.99 478.83,1043.48 C479.64,1043.97 480.43,1044.50 481.21,1045.05 C481.99,1045.59 482.77,1046.17 483.53,1046.77 C484.29,1047.38 485.04,1048.00 485.79,1048.65 C486.53,1049.30 487.27,1049.98 487.99,1050.67 C488.72,1051.36 489.43,1052.08 490.14,1052.81 C490.85,1053.54 491.55,1054.29 492.25,1055.06 C492.94,1055.82 493.63,1056.61 494.31,1057.40 C494.99,1058.19 495.66,1059.00 496.33,1059.82 C497.00,1060.63 497.66,1061.46 498.32,1062.30 C498.97,1063.14 499.62,1063.98 500.27,1064.83 C500.91,1065.68 501.55,1066.54 502.19,1067.40 C502.83,1068.26 503.46,1069.12 504.09,1069.98 C504.72,1070.85 505.34,1071.71 505.96,1072.57 C506.59,1073.44 507.20,1074.30 507.82,1075.16 C508.44,1076.02 509.05,1076.88 509.66,1077.73 C510.27,1078.59 510.88,1079.45 511.48,1080.30 C512.09,1081.16 512.69,1082.01 513.29,1082.87 C513.89,1083.72 514.48,1084.57 515.08,1085.42 C515.67,1086.27 516.26,1087.12 516.85,1087.97 C517.44,1088.82 518.02,1089.67 518.61,1090.52 C519.19,1091.36 519.77,1092.21 520.35,1093.06 C520.93,1093.90 521.50,1094.75 522.08,1095.59 C522.65,1096.43 523.22,1097.28 523.79,1098.12 C524.36,1098.96 524.93,1099.81 525.49,1100.65 C526.06,1101.49 526.62,1102.33 527.18,1103.17 C527.74,1104.01 528.30,1104.85 528.86,1105.69 C529.41,1106.53 529.97,1107.37 530.52,1108.21 C531.07,1109.04 531.62,1109.88 532.17,1110.72 C532.72,1111.56 533.27,1112.40 533.81,1113.23 C534.36,1114.07 534.90,1114.91 535.44,1115.74 C535.98,1116.58 536.52,1117.42 537.06,1118.25 C537.60,1119.09 538.14,1119.92 538.67,1120.76 C539.21,1121.60 539.74,1122.43 540.27,1123.27 C540.80,1124.10 541.34,1124.94 541.86,1125.78 C542.39,1126.61 542.92,1127.45 543.45,1128.28 C543.98,1129.12 544.50,1129.96 545.02,1130.79 C545.55,1131.63 546.07,1132.47 546.59,1133.30 C547.11,1134.14 547.64,1134.98 548.15,1135.82 C548.67,1136.65 549.19,1137.49 549.71,1138.33 C550.23,1139.17 550.74,1140.01 551.26,1140.84 C551.78,1141.68 552.29,1142.52 552.80,1143.36 C553.32,1144.20 553.83,1145.04 554.34,1145.88 C554.86,1146.73 555.37,1147.57 555.88,1148.41 C556.39,1149.25 556.90,1150.10 557.41,1150.94 C557.92,1151.78 558.43,1152.63 558.94,1153.47 C559.44,1154.32 559.95,1155.16 560.46,1156.01 C560.97,1156.86 561.47,1157.70 561.98,1158.55 C562.49,1159.40 562.99,1160.25 563.50,1161.10 C564.01,1161.95 564.51,1162.80 565.02,1163.65 C565.52,1164.51 566.03,1165.36 566.54,1166.21 C567.04,1167.07 567.55,1167.92 568.05,1168.78 C568.56,1169.64 569.06,1170.50 569.57,1171.36 C570.07,1172.21 570.58,1173.07 571.08,1173.94 C571.59,1174.80 572.09,1175.66 572.60,1176.52 C573.11,1177.39 573.61,1178.25 574.12,1179.12 C574.63,1179.98 575.13,1180.85 575.64,1181.72 C576.15,1182.58 576.65,1183.45 577.16,1184.32 C577.67,1185.19 578.18,1186.06 578.69,1186.93 C579.20,1187.80 579.71,1188.67 580.22,1189.54 C580.73,1190.41 581.24,1191.28 581.75,1192.15 C582.26,1193.02 582.78,1193.90 583.29,1194.77 C583.80,1195.64 584.32,1196.51 584.84,1197.38 C585.35,1198.25 585.87,1199.13 586.39,1200.00 C586.90,1200.87 587.42,1201.74 587.94,1202.61 C588.46,1203.48 588.98,1204.36 589.51,1205.23 C590.03,1206.10 590.55,1206.97 591.08,1207.84 C591.60,1208.71 592.13,1209.58 592.66,1210.45 C593.18,1211.31 593.71,1212.18 594.24,1213.05 C594.77,1213.92 595.31,1214.78 595.84,1215.65 C596.38,1216.52 596.91,1217.38 597.45,1218.24 C597.99,1219.11 598.53,1219.97 599.07,1220.83 C599.61,1221.70 600.15,1222.56 600.70,1223.42 C601.24,1224.27 601.79,1225.13 602.34,1225.99 C602.89,1226.85 603.44,1227.70 603.99,1228.56 C604.54,1229.41 605.10,1230.26 605.65,1231.11 C606.21,1231.96 606.77,1232.81 607.33,1233.66 C607.89,1234.51 608.46,1235.35 609.03,1236.20 C609.59,1237.04 610.16,1237.88 610.73,1238.72 C611.30,1239.56 611.88,1240.40 612.45,1241.24 C613.03,1242.07 613.61,1242.91 614.19,1243.74 C614.77,1244.57 615.36,1245.40 615.95,1246.23 C616.53,1247.05 617.12,1247.88 617.72,1248.70 C618.31,1249.52 618.90,1250.34 619.50,1251.16 C620.10,1251.97 620.70,1252.79 621.31,1253.60 C621.91,1254.41 622.52,1255.22 623.13,1256.03 C623.74,1256.83 624.36,1257.63 624.98,1258.43 C625.59,1259.23 626.21,1260.03 626.84,1260.82 C627.46,1261.62 628.09,1262.41 628.72,1263.20 C629.35,1263.98 629.99,1264.77 630.62,1265.55 C631.26,1266.33 631.90,1267.11 632.55,1267.88 C633.19,1268.65 633.84,1269.42 634.49,1270.19 C635.15,1270.96 635.80,1271.72 636.46,1272.48 C637.12,1273.24 637.79,1274.00 638.45,1274.75 C639.12,1275.50 639.79,1276.25 640.47,1276.99 C641.14,1277.73 641.82,1278.47 642.51,1279.21 C643.19,1279.95 643.88,1280.68 644.57,1281.41 C645.26,1282.13 645.95,1282.86 646.65,1283.58 C647.35,1284.30 648.05,1285.01 648.76,1285.73 C649.46,1286.44 650.17,1287.15 650.89,1287.85 C651.60,1288.55 652.32,1289.25 653.04,1289.95 C653.76,1290.65 654.48,1291.34 655.21,1292.03 C655.94,1292.71 656.67,1293.40 657.40,1294.08 C658.14,1294.76 658.88,1295.43 659.62,1296.10 C660.36,1296.77 661.11,1297.44 661.86,1298.10 C662.60,1298.76 663.36,1299.42 664.11,1300.08 C664.87,1300.73 665.63,1301.38 666.39,1302.03 C667.15,1302.67 667.92,1303.32 668.69,1303.95 C669.46,1304.59 670.23,1305.22 671.01,1305.85 C671.78,1306.48 672.56,1307.10 673.34,1307.73 C674.13,1308.35 674.91,1308.96 675.70,1309.57 C676.49,1310.18 677.28,1310.79 678.08,1311.39 C678.87,1312.00 679.67,1312.59 680.47,1313.19 C681.27,1313.78 682.08,1314.37 682.89,1314.96 C683.70,1315.54 684.51,1316.12 685.32,1316.70 C686.13,1317.27 686.95,1317.85 687.77,1318.41 C688.59,1318.98 689.41,1319.54 690.24,1320.10 C691.07,1320.66 691.90,1321.21 692.73,1321.76 C693.56,1322.31 694.39,1322.86 695.23,1323.40 C696.07,1323.94 696.91,1324.47 697.75,1325.00 C698.60,1325.53 699.44,1326.06 700.29,1326.58 C701.14,1327.10 701.99,1327.62 702.85,1328.13 C703.70,1328.64 704.56,1329.15 705.42,1329.65 C706.28,1330.16 707.14,1330.65 708.01,1331.15 C708.87,1331.64 709.74,1332.13 710.61,1332.61 C711.48,1333.10 712.36,1333.58 713.23,1334.05 C714.11,1334.53 714.99,1335.00 715.87,1335.46 C716.75,1335.93 717.64,1336.39 718.52,1336.84 C719.41,1337.30 720.30,1337.75 721.19,1338.19 C722.08,1338.64 722.97,1339.08 723.87,1339.51 C724.76,1339.95 725.66,1340.38 726.56,1340.81 C727.47,1341.23 728.37,1341.65 729.27,1342.07 C730.18,1342.49 731.09,1342.90 732.00,1343.30 C732.91,1343.71 733.82,1344.11 734.74,1344.51 C735.65,1344.90 736.57,1345.30 737.49,1345.68 C738.41,1346.07 739.33,1346.45 740.25,1346.83 C741.18,1347.20 742.10,1347.57 743.03,1347.94 C743.96,1348.31 744.89,1348.67 745.82,1349.02 C746.75,1349.38 747.69,1349.73 748.62,1350.08 C749.56,1350.42 750.50,1350.76 751.44,1351.10 C752.38,1351.43 753.32,1351.76 754.27,1352.09 C755.21,1352.41 756.16,1352.73 757.10,1353.05 C758.05,1353.36 759.00,1353.67 759.96,1353.98 C760.91,1354.28 761.86,1354.58 762.82,1354.87 C763.77,1355.17 764.73,1355.46 765.69,1355.74 C766.65,1356.02 767.61,1356.30 768.57,1356.57 C769.54,1356.85 770.50,1357.11 771.47,1357.38 C772.44,1357.64 773.40,1357.89 774.37,1358.14 C775.34,1358.40 776.32,1358.64 777.29,1358.88 C778.26,1359.12 779.24,1359.36 780.21,1359.59 C781.19,1359.82 782.17,1360.04 783.15,1360.26 C784.13,1360.48 785.11,1360.69 786.09,1360.90 C787.07,1361.11 788.06,1361.31 789.04,1361.51 C790.03,1361.70 791.02,1361.89 792.01,1362.08 C792.99,1362.27 793.98,1362.45 794.98,1362.62 C795.97,1362.80 796.96,1362.96 797.95,1363.13 C798.95,1363.29 799.94,1363.45 800.94,1363.60 C801.94,1363.75 802.93,1363.90 803.93,1364.04 C804.93,1364.18 805.93,1364.32 806.94,1364.45 C807.94,1364.58 808.94,1364.70 809.94,1364.82 C810.95,1364.94 811.95,1365.05 812.96,1365.16 C813.97,1365.26 814.98,1365.36 815.98,1365.46 C816.99,1365.55 818.00,1365.64 819.01,1365.73 C820.02,1365.81 821.04,1365.89 822.05,1365.96 C823.06,1366.03 824.08,1366.10 825.09,1366.16 C826.11,1366.22 827.12,1366.27 828.14,1366.32 C829.16,1366.37 830.17,1366.41 831.19,1366.45 C832.21,1366.49 833.23,1366.52 834.25,1366.55 C835.27,1366.57 836.29,1366.59 837.31,1366.60 C838.34,1366.62 839.36,1366.62 840.38,1366.62 C841.41,1366.63 842.43,1366.62 843.46,1366.61 C844.48,1366.60 845.51,1366.58 846.53,1366.56 C847.56,1366.54 849.10,1366.49 849.62,1366.47" fill="none" stroke="#ff0000" stroke-width="4.5" stroke-linejoin="round" stroke-linecap="butt"/>
<path d="M136.70,1290.24 C137.14,1289.98 138.46,1289.21 139.34,1288.68 C140.22,1288.16 141.09,1287.63 141.97,1287.10 C142.84,1286.57 143.71,1286.04 144.57,1285.51 C145.44,1284.97 146.30,1284.43 147.16,1283.89 C148.03,1283.35 148.88,1282.80 149.74,1282.26 C150.59,1281.71 151.45,1281.16 152.30,1280.60 C153.15,1280.05 153.99,1279.49 154.84,1278.93 C155.68,1278.37 156.52,1277.81 157.36,1277.24 C158.20,1276.68 159.04,1276.11 159.87,1275.54 C160.71,1274.97 161.54,1274.39 162.36,1273.81 C163.19,1273.24 164.02,1272.65 164.84,1272.07 C165.66,1271.49 166.48,1270.90 167.30,1270.31 C168.12,1269.72 168.93,1269.13 169.75,1268.54 C170.56,1267.94 171.37,1267.34 172.18,1266.74 C172.98,1266.14 173.79,1265.54 174.59,1264.93 C175.39,1264.32 176.19,1263.72 176.99,1263.10 C177.78,1262.49 178.58,1261.88 179.37,1261.26 C180.16,1260.64 180.95,1260.02 181.73,1259.40 C182.52,1258.78 183.30,1258.15 184.08,1257.52 C184.86,1256.89 185.64,1256.26 186.42,1255.63 C187.19,1254.99 187.97,1254.36 188.74,1253.72 C189.51,1253.08 190.28,1252.44 191.04,1251.79 C191.81,1251.15 192.57,1250.50 193.33,1249.85 C194.09,1249.20 194.85,1248.55 195.60,1247.90 C196.36,1247.24 197.11,1246.58 197.86,1245.92 C198.61,1245.26 199.36,1244.60 200.11,1243.94 C200.85,1243.27 201.59,1242.60 202.33,1241.93 C203.08,1241.26 203.81,1240.59 204.55,1239.91 C205.28,1239.24 206.02,1238.56 206.75,1237.88 C207.48,1237.20 208.21,1236.52 208.93,1235.83 C209.66,1235.15 210.38,1234.46 211.10,1233.77 C211.82,1233.08 212.54,1232.39 213.25,1231.70 C213.97,1231.00 214.68,1230.30 215.39,1229.60 C216.11,1228.90 216.81,1228.20 217.52,1227.50 C218.23,1226.80 218.93,1226.09 219.63,1225.38 C220.33,1224.67 221.03,1223.96 221.73,1223.25 C222.42,1222.53 223.12,1221.82 223.81,1221.10 C224.50,1220.38 225.19,1219.66 225.88,1218.94 C226.57,1218.22 227.25,1217.49 227.93,1216.77 C228.61,1216.04 229.29,1215.31 229.97,1214.58 C230.65,1213.85 231.32,1213.11 232.00,1212.38 C232.67,1211.64 233.34,1210.91 234.01,1210.17 C234.68,1209.43 235.34,1208.68 236.01,1207.94 C236.67,1207.20 237.33,1206.45 237.99,1205.70 C238.65,1204.95 239.31,1204.20 239.96,1203.45 C240.62,1202.70 241.27,1201.94 241.92,1201.19 C242.57,1200.43 243.22,1199.67 243.86,1198.91 C244.51,1198.15 245.15,1197.39 245.79,1196.62 C246.43,1195.86 247.07,1195.09 247.71,1194.32 C248.34,1193.55 248.98,1192.78 249.61,1192.01 C250.24,1191.24 250.87,1190.46 251.50,1189.69 C252.13,1188.91 252.75,1188.13 253.38,1187.35 C254.00,1186.57 254.62,1185.79 255.24,1185.01 C255.86,1184.22 256.47,1183.44 257.09,1182.65 C257.70,1181.86 258.31,1181.07 258.92,1180.28 C259.53,1179.49 260.14,1178.69 260.75,1177.90 C261.35,1177.10 261.96,1176.31 262.56,1175.51 C263.16,1174.71 263.76,1173.91 264.36,1173.11 C264.95,1172.31 265.55,1171.50 266.14,1170.70 C266.73,1169.89 267.32,1169.08 267.91,1168.27 C268.50,1167.47 269.09,1166.66 269.67,1165.84 C270.26,1165.03 270.84,1164.22 271.42,1163.40 C272.00,1162.59 272.58,1161.77 273.15,1160.95 C273.73,1160.13 274.30,1159.31 274.88,1158.49 C275.45,1157.67 276.02,1156.84 276.59,1156.02 C277.15,1155.19 277.72,1154.36 278.28,1153.54 C278.85,1152.71 279.41,1151.88 279.97,1151.05 C280.53,1150.21 281.09,1149.38 281.64,1148.55 C282.20,1147.71 282.75,1146.88 283.30,1146.04 C283.85,1145.20 284.40,1144.36 284.95,1143.52 C285.50,1142.68 286.05,1141.84 286.59,1140.99 C287.13,1140.15 287.67,1139.31 288.21,1138.46 C288.75,1137.61 289.29,1136.77 289.83,1135.92 C290.36,1135.07 290.90,1134.22 291.43,1133.37 C291.96,1132.51 292.49,1131.66 293.02,1130.81 C293.55,1129.95 294.07,1129.10 294.60,1128.24 C295.12,1127.38 295.64,1126.52 296.16,1125.67 C296.68,1124.81 297.20,1123.94 297.72,1123.08 C298.23,1122.22 298.75,1121.36 299.26,1120.49 C299.77,1119.63 300.28,1118.76 300.79,1117.89 C301.30,1117.03 301.81,1116.16 302.31,1115.29 C302.82,1114.42 303.32,1113.55 303.82,1112.68 C304.33,1111.81 304.83,1110.93 305.32,1110.06 C305.82,1109.18 306.32,1108.31 306.81,1107.43 C307.31,1106.56 307.80,1105.68 308.29,1104.80 C308.78,1103.92 309.27,1103.04 309.75,1102.16 C310.24,1101.28 310.73,1100.40 311.21,1099.52 C311.69,1098.63 312.17,1097.75 312.65,1096.87 C313.13,1095.98 313.61,1095.09 314.09,1094.21 C314.56,1093.32 315.04,1092.43 315.51,1091.54 C315.98,1090.66 316.45,1089.77 316.92,1088.88 C317.39,1087.98 317.86,1087.09 318.32,1086.20 C318.79,1085.31 319.25,1084.41 319.71,1083.52 C320.17,1082.63 320.64,1081.73 321.09,1080.83 C321.55,1079.94 322.01,1079.04 322.46,1078.14 C322.92,1077.25 323.37,1076.35 323.82,1075.45 C324.28,1074.55 324.73,1073.65 325.17,1072.75 C325.62,1071.85 326.07,1070.94 326.51,1070.04 C326.96,1069.14 327.40,1068.24 327.84,1067.33 C328.29,1066.43 328.73,1065.52 329.16,1064.62 C329.60,1063.71 330.04,1062.81 330.47,1061.90 C330.91,1060.99 331.34,1060.08 331.77,1059.18 C332.21,1058.27 332.64,1057.36 333.06,1056.45 C333.49,1055.54 333.92,1054.63 334.34,1053.72 C334.77,1052.81 335.19,1051.90 335.62,1050.98 C336.04,1050.07 336.46,1049.16 336.88,1048.25 C337.30,1047.33 337.71,1046.42 338.13,1045.50 C338.55,1044.59 338.96,1043.67 339.37,1042.76 C339.78,1041.84 340.20,1040.93 340.61,1040.01 C341.01,1039.10 341.42,1038.18 341.83,1037.26 C342.24,1036.34 342.64,1035.43 343.04,1034.51 C343.45,1033.59 343.85,1032.67 344.25,1031.75 C344.65,1030.83 345.05,1029.91 345.45,1028.99 C345.84,1028.07 346.24,1027.15 346.63,1026.23 C347.03,1025.31 347.42,1024.39 347.81,1023.47 C348.20,1022.55 348.59,1021.62 348.98,1020.70 C349.37,1019.78 349.76,1018.86 350.14,1017.93 C350.53,1017.01 350.91,1016.09 351.30,1015.17 C351.68,1014.24 352.06,1013.32 352.44,1012.39 C352.83,1011.47 353.21,1010.55 353.59,1009.62 C353.96,1008.70 354.34,1007.77 354.72,1006.85 C355.10,1005.92 355.47,1005.00 355.85,1004.07 C356.23,1003.15 356.60,1002.22 356.98,1001.30 C357.35,1000.37 357.73,999.45 358.10,998.52 C358.47,997.60 358.85,996.67 359.22,995.75 C359.59,994.82 359.96,993.89 360.33,992.97 C360.71,992.04 361.08,991.12 361.45,990.19 C361.82,989.27 362.19,988.34 362.56,987.41 C362.94,986.49 363.31,985.56 363.68,984.64 C364.05,983.71 364.42,982.79 364.79,981.86 C365.17,980.93 365.54,980.01 365.91,979.08 C366.28,978.16 366.65,977.23 367.03,976.31 C367.40,975.38 367.77,974.46 368.15,973.53 C368.52,972.61 368.89,971.68 369.27,970.76 C369.64,969.83 370.02,968.91 370.40,967.98 C370.77,967.06 371.15,966.14 371.53,965.21 C371.90,964.29 372.28,963.36 372.66,962.44 C373.04,961.52 373.42,960.59 373.80,959.67 C374.19,958.75 374.57,957.83 374.95,956.90 C375.34,955.98 375.72,955.06 376.11,954.14 C376.49,953.22 376.88,952.30 377.27,951.38 C377.66,950.46 378.05,949.54 378.44,948.62 C378.83,947.70 379.23,946.78 379.62,945.86 C380.02,944.94 380.41,944.02 380.81,943.10 C381.21,942.18 381.61,941.27 382.01,940.35 C382.41,939.43 382.82,938.51 383.22,937.60 C383.63,936.68 384.04,935.77 384.45,934.85 C384.86,933.94 385.27,933.02 385.68,932.11 C386.10,931.19 386.51,930.28 386.93,929.37 C387.35,928.45 387.77,927.54 388.19,926.63 C388.62,925.72 389.04,924.81 389.47,923.90 C389.90,922.99 390.33,922.08 390.76,921.17 C391.19,920.26 391.63,919.35 392.07,918.44 C392.51,917.54 392.95,916.63 393.39,915.72 C393.84,914.82 394.28,913.91 394.73,913.01 C395.18,912.10 395.64,911.20 396.09,910.30 C396.55,909.39 397.01,908.49 397.47,907.59 C397.93,906.69 398.40,905.79 398.87,904.89 C399.33,903.99 399.81,903.09 400.28,902.19 C400.76,901.29 401.24,900.39 401.72,899.50 C402.20,898.60 402.69,897.71 403.18,896.81 C403.67,895.92 404.16,895.02 404.65,894.13 C405.15,893.24 405.65,892.35 406.16,891.46 C406.66,890.57 407.17,889.68 407.68,888.79 C408.19,887.90 408.71,887.01 409.23,886.13 C409.75,885.24 410.27,884.36 410.80,883.47 C411.33,882.59 411.86,881.70 412.40,880.82 C412.94,879.94 413.48,879.06 414.02,878.18 C414.57,877.30 415.12,876.43 415.68,875.56 C416.24,874.70 416.81,873.84 417.39,872.99 C417.97,872.14 418.56,871.31 419.16,870.49 C419.76,869.67 420.37,868.86 421.00,868.08 C421.62,867.30 422.26,866.53 422.92,865.79 C423.58,865.05 424.25,864.33 424.94,863.64 C425.64,862.95 426.34,862.28 427.08,861.65 C427.81,861.01 428.56,860.41 429.33,859.84 C430.10,859.28 430.90,858.74 431.72,858.25 C432.54,857.76 433.39,857.30 434.26,856.89 C435.13,856.48 436.03,856.11 436.96,855.79 C437.89,855.47 438.85,855.19 439.82,854.96 C440.79,854.73 441.80,854.55 442.80,854.41 C443.80,854.28 444.82,854.18 445.84,854.14 C446.85,854.09 447.87,854.09 448.88,854.13 C449.88,854.17 450.89,854.26 451.87,854.39 C452.85,854.52 453.82,854.69 454.75,854.91 C455.69,855.13 456.60,855.39 457.48,855.69 C458.36,855.99 459.22,856.33 460.05,856.71 C460.89,857.09 461.70,857.51 462.48,857.96 C463.27,858.42 464.03,858.91 464.77,859.43 C465.52,859.95 466.24,860.50 466.94,861.09 C467.64,861.67 468.32,862.28 468.98,862.92 C469.65,863.56 470.29,864.23 470.92,864.92 C471.55,865.62 472.16,866.34 472.76,867.07 C473.36,867.81 473.94,868.57 474.51,869.35 C475.08,870.13 475.64,870.93 476.19,871.75 C476.73,872.56 477.26,873.40 477.79,874.24 C478.31,875.09 478.82,875.95 479.33,876.82 C479.84,877.69 480.33,878.57 480.82,879.46 C481.31,880.35 481.80,881.25 482.27,882.15 C482.75,883.05 483.22,883.97 483.69,884.88 C484.16,885.79 484.63,886.71 485.09,887.62 C485.56,888.54 486.02,889.46 486.48,890.37 C486.94,891.29 487.39,892.21 487.85,893.13 C488.30,894.05 488.76,894.97 489.21,895.89 C489.66,896.81 490.11,897.73 490.55,898.65 C491.00,899.57 491.44,900.49 491.89,901.41 C492.33,902.33 492.77,903.26 493.21,904.18 C493.65,905.10 494.09,906.02 494.52,906.95 C494.96,907.87 495.39,908.80 495.82,909.72 C496.25,910.65 496.68,911.57 497.11,912.50 C497.54,913.42 497.97,914.35 498.39,915.27 C498.82,916.20 499.24,917.13 499.66,918.06 C500.08,918.98 500.50,919.91 500.92,920.84 C501.34,921.77 501.75,922.70 502.17,923.62 C502.58,924.55 503.00,925.48 503.41,926.41 C503.82,927.34 504.23,928.27 504.64,929.20 C505.05,930.13 505.46,931.06 505.86,931.99 C506.27,932.93 506.67,933.86 507.07,934.79 C507.48,935.72 507.88,936.65 508.28,937.58 C508.68,938.52 509.08,939.45 509.48,940.38 C509.87,941.31 510.27,942.25 510.67,943.18 C511.06,944.11 511.46,945.05 511.85,945.98 C512.24,946.92 512.63,947.85 513.02,948.78 C513.41,949.72 513.80,950.65 514.19,951.59 C514.58,952.52 514.96,953.46 515.35,954.39 C515.74,955.33 516.12,956.26 516.51,957.20 C516.89,958.13 517.27,959.07 517.65,960.01 C518.04,960.94 518.42,961.88 518.80,962.81 C519.18,963.75 519.56,964.69 519.93,965.62 C520.31,966.56 520.69,967.50 521.07,968.43 C521.44,969.37 521.82,970.31 522.19,971.24 C522.57,972.18 522.94,973.12 523.32,974.06 C523.69,974.99 524.06,975.93 524.43,976.87 C524.81,977.80 525.18,978.74 525.55,979.68 C525.92,980.62 526.29,981.55 526.66,982.49 C527.03,983.43 527.39,984.37 527.76,985.30 C528.13,986.24 528.50,987.18 528.87,988.12 C529.23,989.05 529.60,989.99 529.97,990.93 C530.33,991.87 530.70,992.80 531.06,993.74 C531.43,994.68 531.79,995.62 532.16,996.55 C532.52,997.49 532.89,998.43 533.25,999.36 C533.61,1000.30 533.98,1001.24 534.34,1002.18 C534.70,1003.11 535.07,1004.05 535.43,1004.99 C535.79,1005.92 536.16,1006.86 536.52,1007.80 C536.88,1008.73 537.24,1009.67 537.61,1010.61 C537.97,1011.54 538.33,1012.48 538.69,1013.42 C539.05,1014.35 539.41,1015.29 539.78,1016.22 C540.14,1017.16 540.50,1018.09 540.86,1019.03 C541.22,1019.97 541.58,1020.90 541.95,1021.84 C542.31,1022.77 542.67,1023.71 543.03,1024.64 C543.39,1025.57 543.76,1026.51 544.12,1027.44 C544.48,1028.38 544.84,1029.31 545.21,1030.24 C545.57,1031.18 545.93,1032.11 546.29,1033.05 C546.66,1033.98 547.02,1034.91 547.38,1035.84 C547.75,1036.78 548.11,1037.71 548.47,1038.64 C548.84,1039.57 549.20,1040.50 549.57,1041.44 C549.93,1042.37 550.30,1043.30 550.66,1044.23 C551.03,1045.16 551.39,1046.09 551.76,1047.02 C552.13,1047.95 552.49,1048.88 552.86,1049.81 C553.23,1050.74 553.60,1051.67 553.97,1052.60 C554.33,1053.53 554.70,1054.45 555.07,1055.38 C555.44,1056.31 555.81,1057.24 556.18,1058.16 C556.56,1059.09 556.93,1060.02 557.30,1060.94 C557.67,1061.87 558.05,1062.80 558.42,1063.72 C558.79,1064.65 559.17,1065.57 559.54,1066.50 C559.92,1067.42 560.29,1068.34 560.67,1069.27 C561.05,1070.19 561.43,1071.11 561.81,1072.04 C562.18,1072.96 562.56,1073.88 562.94,1074.80 C563.32,1075.72 563.71,1076.64 564.09,1077.56 C564.47,1078.48 564.85,1079.40 565.24,1080.32 C565.62,1081.24 566.01,1082.16 566.40,1083.08 C566.78,1084.00 567.17,1084.92 567.56,1085.83 C567.95,1086.75 568.34,1087.67 568.73,1088.58 C569.12,1089.50 569.51,1090.41 569.91,1091.33 C570.30,1092.24 570.69,1093.16 571.09,1094.07 C571.49,1094.98 571.88,1095.90 572.28,1096.81 C572.68,1097.72 573.08,1098.63 573.48,1099.54 C573.88,1100.45 574.28,1101.36 574.69,1102.27 C575.09,1103.18 575.50,1104.09 575.90,1105.00 C576.31,1105.91 576.72,1106.82 577.13,1107.72 C577.54,1108.63 577.95,1109.54 578.36,1110.44 C578.77,1111.35 579.19,1112.25 579.60,1113.15 C580.02,1114.06 580.44,1114.96 580.86,1115.86 C581.28,1116.77 581.70,1117.67 582.12,1118.57 C582.54,1119.47 582.97,1120.37 583.39,1121.27 C583.82,1122.17 584.24,1123.06 584.67,1123.96 C585.10,1124.86 585.53,1125.76 585.97,1126.65 C586.40,1127.55 586.83,1128.44 587.27,1129.34 C587.71,1130.23 588.15,1131.13 588.59,1132.02 C589.03,1132.91 589.47,1133.80 589.91,1134.69 C590.36,1135.58 590.80,1136.47 591.25,1137.36 C591.70,1138.25 592.15,1139.14 592.60,1140.03 C593.05,1140.91 593.51,1141.80 593.96,1142.69 C594.42,1143.57 594.88,1144.46 595.34,1145.34 C595.80,1146.22 596.26,1147.11 596.73,1147.99 C597.19,1148.87 597.66,1149.75 598.13,1150.63 C598.60,1151.51 599.07,1152.39 599.54,1153.27 C600.02,1154.14 600.49,1155.02 600.97,1155.90 C601.45,1156.77 601.93,1157.65 602.41,1158.52 C602.90,1159.39 603.38,1160.27 603.87,1161.14 C604.36,1162.01 604.85,1162.88 605.34,1163.75 C605.84,1164.62 606.33,1165.49 606.83,1166.35 C607.33,1167.22 607.83,1168.09 608.33,1168.95 C608.83,1169.82 609.34,1170.68 609.85,1171.55 C610.35,1172.41 610.86,1173.27 611.38,1174.13 C611.89,1174.99 612.41,1175.85 612.93,1176.71 C613.44,1177.57 613.97,1178.43 614.49,1179.28 C615.01,1180.14 615.54,1180.99 616.07,1181.85 C616.60,1182.70 617.13,1183.55 617.67,1184.41 C618.20,1185.26 618.74,1186.11 619.28,1186.96 C619.82,1187.81 620.37,1188.65 620.91,1189.50 C621.46,1190.35 622.01,1191.19 622.56,1192.03 C623.11,1192.88 623.67,1193.72 624.23,1194.56 C624.78,1195.40 625.34,1196.24 625.91,1197.08 C626.47,1197.92 627.04,1198.75 627.61,1199.59 C628.18,1200.42 628.75,1201.25 629.32,1202.08 C629.90,1202.92 630.48,1203.75 631.06,1204.57 C631.64,1205.40 632.22,1206.23 632.81,1207.05 C633.39,1207.87 633.98,1208.70 634.57,1209.52 C635.17,1210.34 635.76,1211.16 636.36,1211.97 C636.96,1212.79 637.56,1213.60 638.16,1214.42 C638.76,1215.23 639.37,1216.04 639.98,1216.85 C640.59,1217.65 641.20,1218.46 641.81,1219.26 C642.43,1220.07 643.05,1220.87 643.67,1221.67 C644.29,1222.47 644.91,1223.27 645.54,1224.06 C646.16,1224.85 646.79,1225.65 647.42,1226.44 C648.06,1227.23 648.69,1228.02 649.33,1228.80 C649.97,1229.59 650.61,1230.37 651.25,1231.15 C651.89,1231.93 652.54,1232.71 653.19,1233.48 C653.84,1234.26 654.49,1235.03 655.15,1235.80 C655.80,1236.57 656.46,1237.33 657.12,1238.10 C657.78,1238.86 658.44,1239.62 659.11,1240.38 C659.78,1241.14 660.45,1241.90 661.12,1242.65 C661.79,1243.40 662.47,1244.15 663.14,1244.90 C663.82,1245.65 664.50,1246.39 665.19,1247.13 C665.87,1247.87 666.56,1248.61 667.25,1249.35 C667.94,1250.08 668.63,1250.81 669.32,1251.54 C670.02,1252.27 670.72,1253.00 671.42,1253.72 C672.12,1254.44 672.82,1255.16 673.53,1255.88 C674.24,1256.59 674.95,1257.30 675.66,1258.01 C676.37,1258.72 677.09,1259.43 677.81,1260.13 C678.53,1260.83 679.25,1261.53 679.97,1262.22 C680.70,1262.92 681.42,1263.61 682.15,1264.30 C682.88,1264.99 683.62,1265.67 684.35,1266.35 C685.09,1267.03 685.83,1267.71 686.57,1268.38 C687.31,1269.06 688.06,1269.73 688.80,1270.39 C689.55,1271.06 690.30,1271.72 691.06,1272.38 C691.81,1273.04 692.57,1273.69 693.32,1274.34 C694.08,1274.99 694.85,1275.64 695.61,1276.28 C696.38,1276.92 697.14,1277.56 697.92,1278.19 C698.69,1278.83 699.46,1279.46 700.24,1280.08 C701.01,1280.71 701.79,1281.33 702.58,1281.95 C703.36,1282.57 704.15,1283.18 704.93,1283.79 C705.72,1284.40 706.52,1285.00 707.31,1285.60 C708.10,1286.20 708.90,1286.80 709.70,1287.39 C710.50,1287.98 711.31,1288.57 712.11,1289.15 C712.92,1289.73 713.73,1290.31 714.54,1290.89 C715.35,1291.46 716.17,1292.03 716.99,1292.59 C717.80,1293.16 718.62,1293.72 719.45,1294.27 C720.28,1294.82 721.11,1295.37 721.94,1295.90 C722.78,1296.43 723.62,1296.96 724.46,1297.47 C725.31,1297.99 726.17,1298.49 727.03,1298.98 C727.89,1299.46 728.76,1299.94 729.64,1300.39 C730.52,1300.85 731.40,1301.29 732.30,1301.71 C733.20,1302.13 734.11,1302.54 735.03,1302.92 C735.95,1303.30 736.88,1303.66 737.82,1304.00 C738.76,1304.34 739.71,1304.66 740.67,1304.97 C741.63,1305.28 742.59,1305.57 743.56,1305.86 C744.53,1306.14 745.51,1306.41 746.49,1306.68 C747.47,1306.95 748.45,1307.20 749.43,1307.46 C750.41,1307.72 751.40,1307.97 752.38,1308.22 C753.36,1308.47 754.35,1308.73 755.33,1308.98 C756.31,1309.23 757.29,1309.47 758.27,1309.72 C759.26,1309.97 760.24,1310.22 761.22,1310.47 C762.20,1310.71 763.18,1310.96 764.16,1311.21 C765.14,1311.45 766.12,1311.70 767.10,1311.95 C768.08,1312.19 769.06,1312.44 770.03,1312.69 C771.01,1312.94 771.99,1313.18 772.97,1313.43 C773.94,1313.68 774.92,1313.93 775.89,1314.18 C776.87,1314.43 777.84,1314.68 778.81,1314.93 C779.79,1315.18 780.76,1315.44 781.73,1315.69 C782.70,1315.95 783.67,1316.20 784.64,1316.46 C785.61,1316.72 786.58,1316.98 787.55,1317.24 C788.52,1317.50 789.48,1317.76 790.45,1318.01 C791.42,1318.27 792.39,1318.53 793.35,1318.79 C794.32,1319.05 795.28,1319.31 796.25,1319.56 C797.22,1319.82 798.18,1320.07 799.15,1320.32 C800.11,1320.58 801.08,1320.83 802.05,1321.07 C803.01,1321.32 803.98,1321.56 804.95,1321.80 C805.92,1322.04 806.88,1322.28 807.85,1322.51 C808.82,1322.75 809.79,1322.97 810.76,1323.20 C811.73,1323.42 812.70,1323.64 813.67,1323.85 C814.65,1324.07 815.62,1324.28 816.60,1324.48 C817.57,1324.68 818.55,1324.87 819.52,1325.06 C820.50,1325.25 821.48,1325.43 822.46,1325.61 C823.44,1325.78 824.42,1325.95 825.41,1326.11 C826.39,1326.26 827.38,1326.41 828.37,1326.56 C829.36,1326.70 830.35,1326.83 831.34,1326.95 C832.33,1327.07 833.33,1327.19 834.33,1327.29 C835.32,1327.40 836.32,1327.49 837.33,1327.57 C838.33,1327.65 839.34,1327.73 840.34,1327.79 C841.35,1327.85 842.36,1327.89 843.38,1327.93 C844.39,1327.97 845.41,1327.99 846.43,1328.00 C847.45,1328.01 848.99,1328.00 849.50,1328.00" fill="none" stroke="#0000ff" stroke-width="4.5" stroke-linejoin="round" stroke-linecap="butt"/>
<rect x="134.60" y="847.20" width="714.90" height="585.70" fill="none" stroke="#000" stroke-width="4.5" stroke-linejoin="round"/>
<line x1="594.5" y1="878.10" x2="664.5" y2="878.10" stroke="#0000ff" stroke-width="4.3" stroke-linecap="butt"/>
<text x="0" y="0" transform="translate(670.2 887.10) scale(1 1.03)" font-size="30">120</text>
<text x="0" y="0" transform="translate(729.2 887.10) scale(1 1.03)" font-size="30">minutes</text>
<line x1="594.5" y1="915.40" x2="664.5" y2="915.40" stroke="#ff0000" stroke-width="4.3" stroke-linecap="butt"/>
<text x="0" y="0" transform="translate(670.2 924.40) scale(1 1.03)" font-size="30">60</text>
<text x="0" y="0" transform="translate(729.2 924.40) scale(1 1.03)" font-size="30">minutes</text>
<line x1="594.5" y1="952.80" x2="664.5" y2="952.80" stroke="#00ff00" stroke-width="4.3" stroke-linecap="butt"/>
<text x="0" y="0" transform="translate(670.2 961.80) scale(1 1.03)" font-size="30">30</text>
<text x="0" y="0" transform="translate(729.2 961.80) scale(1 1.03)" font-size="30">minutes</text>
<line x1="594.5" y1="990.40" x2="664.5" y2="990.40" stroke="#000000" stroke-width="4.3" stroke-linecap="butt"/>
<text x="0" y="0" transform="translate(670.2 999.40) scale(1 1.03)" font-size="30">10</text>
<text x="0" y="0" transform="translate(729.2 999.40) scale(1 1.03)" font-size="30">minutes</text>
<line x1="122.90" y1="2203.00" x2="122.90" y2="2215.10" stroke="#000" stroke-width="4.3" stroke-linecap="round"/>
<line x1="361.63" y1="2203.00" x2="361.63" y2="2215.10" stroke="#000" stroke-width="4.3" stroke-linecap="round"/>
<line x1="600.37" y1="2203.00" x2="600.37" y2="2215.10" stroke="#000" stroke-width="4.3" stroke-linecap="round"/>
<line x1="839.10" y1="2203.00" x2="839.10" y2="2215.10" stroke="#000" stroke-width="4.3" stroke-linecap="round"/>
<line x1="242.27" y1="2203.00" x2="242.27" y2="2208.90" stroke="#000" stroke-width="4.3" stroke-linecap="round"/>
<line x1="481.00" y1="2203.00" x2="481.00" y2="2208.90" stroke="#000" stroke-width="4.3" stroke-linecap="round"/>
<line x1="719.73" y1="2203.00" x2="719.73" y2="2208.90" stroke="#000" stroke-width="4.3" stroke-linecap="round"/>
<line x1="122.90" y1="2203.00" x2="110.80" y2="2203.00" stroke="#000" stroke-width="4.3" stroke-linecap="round"/>
<line x1="122.90" y1="2090.16" x2="110.80" y2="2090.16" stroke="#000" stroke-width="4.3" stroke-linecap="round"/>
<line x1="122.90" y1="1977.32" x2="110.80" y2="1977.32" stroke="#000" stroke-width="4.3" stroke-linecap="round"/>
<line x1="122.90" y1="1864.48" x2="110.80" y2="1864.48" stroke="#000" stroke-width="4.3" stroke-linecap="round"/>
<line x1="122.90" y1="1751.64" x2="110.80" y2="1751.64" stroke="#000" stroke-width="4.3" stroke-linecap="round"/>
<line x1="122.90" y1="1638.80" x2="110.80" y2="1638.80" stroke="#000" stroke-width="4.3" stroke-linecap="round"/>
<line x1="122.90" y1="2146.58" x2="117.00" y2="2146.58" stroke="#000" stroke-width="4.3" stroke-linecap="round"/>
<line x1="122.90" y1="2033.74" x2="117.00" y2="2033.74" stroke="#000" stroke-width="4.3" stroke-linecap="round"/>
<line x1="122.90" y1="1920.90" x2="117.00" y2="1920.90" stroke="#000" stroke-width="4.3" stroke-linecap="round"/>
<line x1="122.90" y1="1808.06" x2="117.00" y2="1808.06" stroke="#000" stroke-width="4.3" stroke-linecap="round"/>
<line x1="122.90" y1="1695.22" x2="117.00" y2="1695.22" stroke="#000" stroke-width="4.3" stroke-linecap="round"/>
<text x="122.90" y="0" transform="translate(0 2239.50) scale(1 1.000)" text-anchor="middle" font-size="24.60" font-weight="bold">300</text>
<text x="361.63" y="0" transform="translate(0 2239.50) scale(1 1.000)" text-anchor="middle" font-size="24.60" font-weight="bold">400</text>
<text x="600.37" y="0" transform="translate(0 2239.50) scale(1 1.000)" text-anchor="middle" font-size="24.60" font-weight="bold">500</text>
<text x="839.10" y="0" transform="translate(0 2239.50) scale(1 1.000)" text-anchor="middle" font-size="24.60" font-weight="bold">600</text>
<text x="103.70" y="0" transform="translate(0 2209.80) scale(1 1.000)" text-anchor="end" font-size="24.60" font-weight="bold">0.0</text>
<text x="103.70" y="0" transform="translate(0 2096.96) scale(1 1.000)" text-anchor="end" font-size="24.60" font-weight="bold">0.2</text>
<text x="103.70" y="0" transform="translate(0 1984.12) scale(1 1.000)" text-anchor="end" font-size="24.60" font-weight="bold">0.4</text>
<text x="103.70" y="0" transform="translate(0 1871.28) scale(1 1.000)" text-anchor="end" font-size="24.60" font-weight="bold">0.6</text>
<text x="103.70" y="0" transform="translate(0 1758.44) scale(1 1.000)" text-anchor="end" font-size="24.60" font-weight="bold">0.8</text>
<text x="103.70" y="0" transform="translate(0 1645.60) scale(1 1.000)" text-anchor="end" font-size="24.60" font-weight="bold">1.0</text>
<path d="M122.90,2203.51 L127.67,2203.24 L132.45,2202.95 L137.22,2202.65 L142.00,2202.33 L146.77,2201.99 L151.55,2201.63 L156.32,2201.25 L161.10,2200.85 L165.87,2200.42 L170.65,2199.96 L175.42,2199.47 L180.20,2198.95 L184.97,2198.39 L189.75,2197.80 L194.52,2197.16 L199.29,2196.48 L204.07,2195.75 L208.84,2194.96 L213.62,2194.11 L218.39,2193.20 L223.17,2192.21 L227.94,2191.15 L232.72,2189.99 L237.49,2188.73 L242.27,2187.36 L247.04,2185.87 L251.82,2184.25 L256.59,2182.46 L261.37,2180.51 L266.14,2178.36 L270.91,2175.98 L275.69,2173.36 L280.46,2170.45 L285.24,2167.22 L290.01,2163.62 L294.79,2159.58 L299.56,2155.06 L304.34,2149.96 L309.11,2144.20 L313.89,2137.67 L315.08,2135.90 L316.27,2134.07 L317.47,2132.18 L318.66,2130.23 L319.86,2128.21 L321.05,2126.12 L322.24,2123.96 L323.44,2121.73 L324.63,2119.42 L325.82,2117.02 L327.02,2114.54 L328.21,2111.98 L329.40,2109.32 L330.60,2106.57 L331.79,2103.71 L332.99,2100.75 L334.18,2097.69 L335.37,2094.50 L336.57,2091.21 L337.76,2087.78 L338.95,2084.23 L340.15,2080.55 L341.34,2076.72 L342.53,2072.75 L343.73,2068.63 L344.92,2064.35 L346.12,2059.91 L347.31,2055.29 L348.50,2050.50 L349.70,2045.52 L350.89,2040.35 L352.08,2034.98 L353.28,2029.40 L354.47,2023.60 L355.66,2017.59 L356.86,2011.34 L358.05,2004.85 L359.25,1998.12 L360.44,1991.13 L361.63,1983.89 L362.83,1976.38 L364.02,1968.59 L365.21,1960.53 L366.41,1952.19 L367.60,1943.56 L368.80,1934.64 L369.99,1925.43 L371.18,1915.94 L372.38,1906.16 L373.57,1896.10 L374.76,1885.77 L375.96,1875.17 L377.15,1864.33 L378.34,1853.26 L379.54,1841.98 L380.73,1830.52 L381.93,1818.90 L383.12,1807.17 L384.31,1795.36 L385.51,1783.52 L386.70,1771.70 L387.89,1759.96 L389.09,1748.35 L390.28,1736.95 L391.48,1725.83 L392.67,1715.05 L393.86,1704.71 L395.06,1694.86 L396.25,1685.60 L397.44,1677.01 L398.64,1669.15 L399.83,1662.11 L401.02,1655.94 L402.22,1650.70 L403.41,1646.46 L404.61,1643.24 L405.80,1641.09 L406.99,1640.01 L408.19,1639.99 L409.38,1640.86 L410.57,1642.66 L411.77,1645.43 L412.96,1649.14 L414.15,1653.77 L415.35,1659.29 L416.54,1665.64 L417.74,1672.78 L418.93,1680.63 L420.12,1689.13 L421.32,1698.20 L422.51,1707.78 L423.70,1717.79 L424.90,1728.16 L426.09,1738.81 L427.28,1749.68 L428.48,1760.70 L429.67,1771.82 L430.87,1782.99 L432.06,1794.15 L433.25,1805.26 L434.45,1816.27 L435.64,1827.17 L436.83,1837.90 L438.03,1848.46 L439.22,1858.82 L440.42,1868.96 L441.61,1878.86 L442.80,1888.52 L444.00,1897.93 L445.19,1907.08 L446.38,1915.97 L447.58,1924.59 L448.77,1932.95 L449.96,1941.05 L451.16,1948.88 L452.35,1956.46 L453.55,1963.79 L454.74,1970.87 L455.93,1977.70 L457.13,1984.30 L458.32,1990.68 L459.51,1996.83 L460.71,2002.76 L461.90,2008.48 L463.10,2014.00 L464.29,2019.33 L465.48,2024.46 L466.68,2029.42 L467.87,2034.20 L469.06,2038.81 L470.26,2043.25 L471.45,2047.54 L472.64,2051.68 L473.84,2055.68 L475.03,2059.53 L476.23,2063.25 L477.42,2066.85 L478.61,2070.32 L479.81,2073.67 L481.00,2076.90 L482.19,2080.03 L483.39,2083.05 L484.58,2085.98 L485.77,2088.80 L486.97,2091.53 L488.16,2094.17 L489.36,2096.73 L490.55,2099.20 L491.74,2101.60 L492.94,2103.92 L494.13,2106.16 L495.32,2108.34 L496.52,2110.44 L497.71,2112.48 L498.90,2114.46 L500.10,2116.38 L501.29,2118.24 L502.49,2120.05 L503.68,2121.80 L504.87,2123.50 L509.65,2129.81 L514.42,2135.44 L519.20,2140.47 L523.97,2144.98 L528.75,2149.05 L533.52,2152.72 L538.30,2156.04 L543.07,2159.06 L547.85,2161.81 L552.62,2164.32 L557.39,2166.62 L562.17,2168.73 L566.94,2170.67 L571.72,2172.45 L576.49,2174.11 L581.27,2175.64 L586.04,2177.06 L590.82,2178.37 L595.59,2179.60 L600.37,2180.74 L605.14,2181.81 L609.92,2182.81 L614.69,2183.74 L619.47,2184.62 L624.24,2185.44 L629.01,2186.22 L633.79,2186.94 L638.56,2187.63 L643.34,2188.28 L648.11,2188.89 L652.89,2189.47 L657.66,2190.02 L662.44,2190.54 L667.21,2191.03 L671.99,2191.49 L676.76,2191.94 L681.54,2192.36 L686.31,2192.76 L691.09,2193.15 L695.86,2193.51 L700.63,2193.86 L705.41,2194.19 L710.18,2194.51 L714.96,2194.81 L719.73,2195.10 L724.51,2195.38 L729.28,2195.64 L734.06,2195.90 L738.83,2196.14 L743.61,2196.38 L748.38,2196.60 L753.16,2196.82 L757.93,2197.03 L762.71,2197.22 L767.48,2197.42 L772.25,2197.60 L777.03,2197.78 L781.80,2197.95 L786.58,2198.11 L791.35,2198.27 L796.13,2198.43 L800.90,2198.57 L805.68,2198.72 L810.45,2198.85 L815.23,2198.99 L820.00,2199.11 L824.78,2199.24 L829.55,2199.36 L834.33,2199.47 L839.10,2199.59" fill="none" stroke="#ff0000" stroke-width="4.5" stroke-linejoin="round" stroke-linecap="butt"/>
<rect x="122.90" y="1627.00" width="716.20" height="576.00" fill="none" stroke="#000" stroke-width="4.5" stroke-linejoin="round"/>
<line x1="436.5" y1="1652.0" x2="506.6" y2="1652.0" stroke="#ff0000" stroke-width="4.3" stroke-linecap="butt"/>
<text x="0" y="0" transform="translate(512 1662.2) scale(1 1.0)" font-size="30">Scattering cross section</text>
<text x="0" y="0" transform="translate(4.5 55.2) scale(0.918 1)" font-size="89" font-weight="bold">a</text>
<text x="0" y="0" transform="translate(10 815.3) scale(1.034 1)" font-size="89" font-weight="bold">b</text>
<text x="0" y="0" transform="translate(3.7 1616) scale(1 1)" font-size="89" font-weight="bold">c</text>
<text x="0" y="0" transform="translate(492.4 734.8) scale(1 1.05)" text-anchor="middle" font-size="30.4" font-weight="bold">Wavelength (nm)</text>
<text x="0" y="0" transform="translate(491.2 1521.9) scale(1 1.05)" text-anchor="middle" font-size="30.2" font-weight="bold">Wavelength (nm)</text>
<text x="0" y="0" transform="translate(479.4 2287.7) scale(1 1.0)" text-anchor="middle" font-size="30.2" font-weight="bold">Wavelength (nm)</text>
<text x="0" y="0" transform="translate(64.9 353.2) rotate(-90) scale(1 1.03)" text-anchor="middle" font-size="30.35" font-weight="bold">Photoluminecence (a.u.)</text>
<text x="0" y="0" transform="translate(47 1160.6) rotate(-90) scale(1 1.03)" text-anchor="middle" font-size="30.5" font-weight="bold">Absorption (a.u.)</text>
<text x="0" y="0" transform="translate(51.9 1913.8) rotate(-90) scale(1 1.0)" text-anchor="middle" font-size="29.8" font-weight="bold">Extinction</text>
</svg></body></html>
